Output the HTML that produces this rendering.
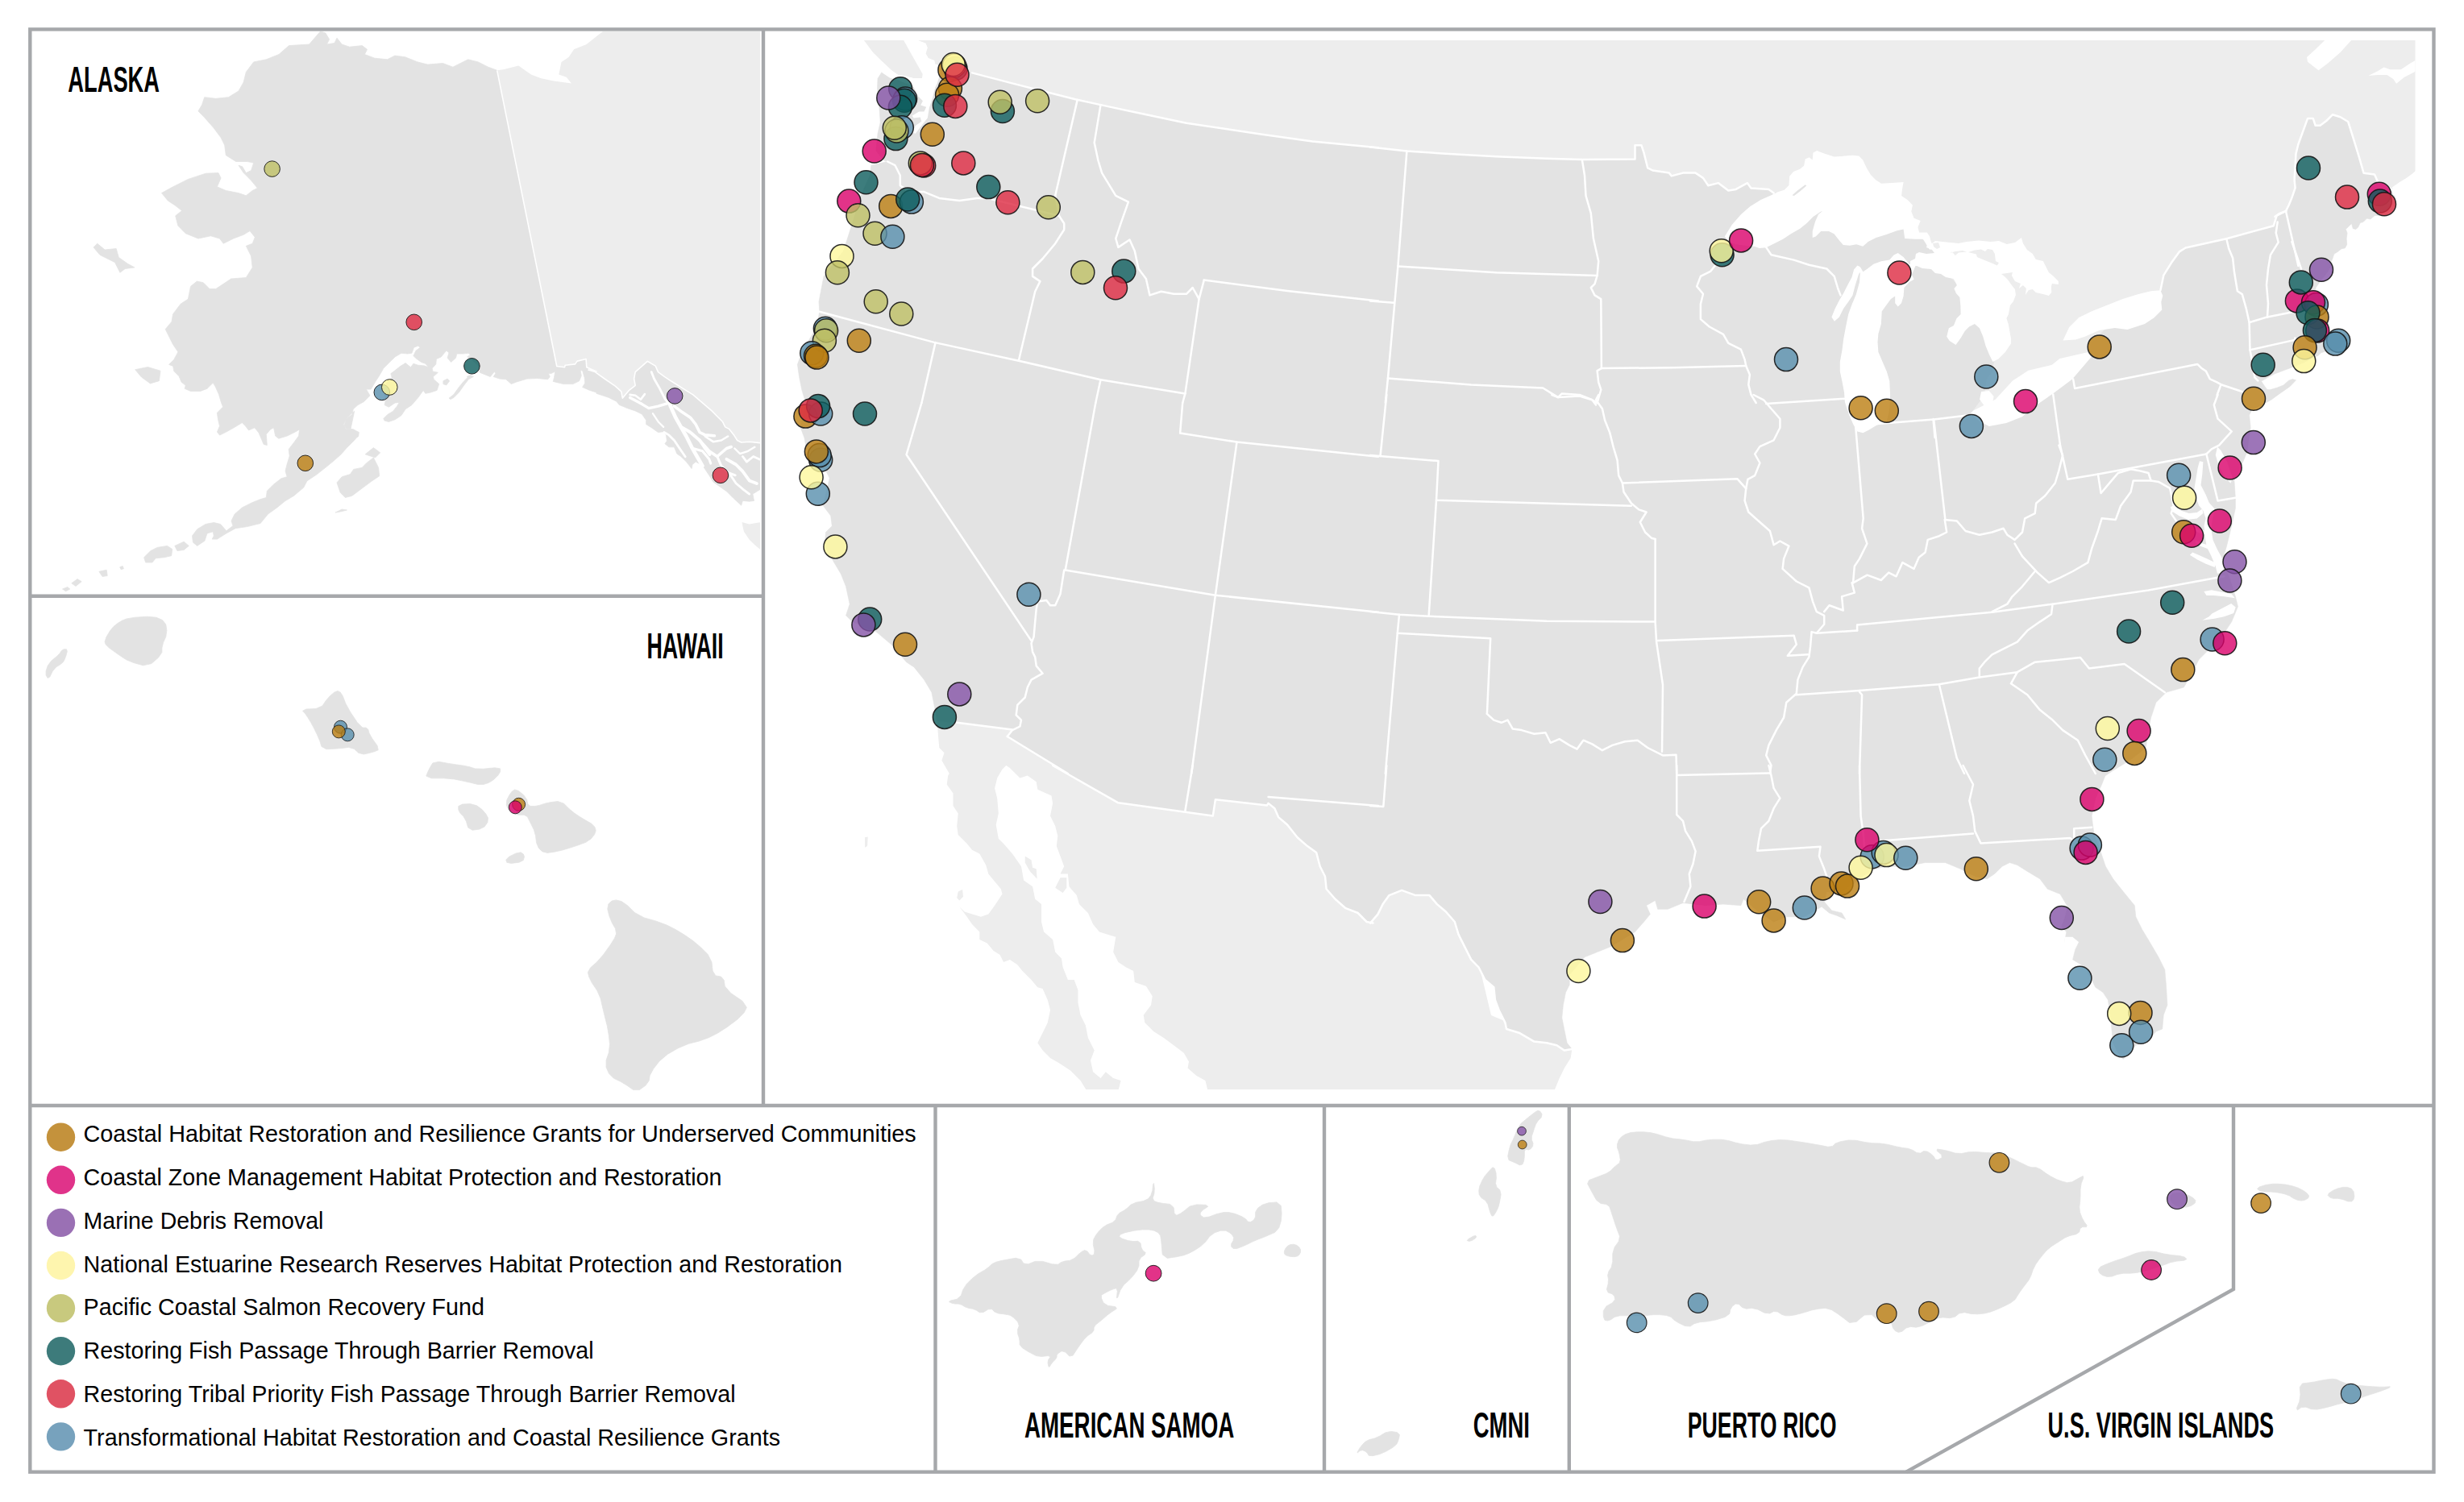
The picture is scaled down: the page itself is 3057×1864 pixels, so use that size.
<!DOCTYPE html>
<html lang="en"><head><meta charset="utf-8"><title>Map</title><style>html,body{margin:0;padding:0;background:#fff}svg{display:block}text{font-family:"Liberation Sans",sans-serif}</style></head><body>
<svg width="3057" height="1864" viewBox="0 0 3057 1864">
<defs><clipPath id="cm"><rect x="949" y="50" width="2047.5" height="1302"/></clipPath><clipPath id="ca"><rect x="39" y="39" width="904" height="698"/></clipPath></defs>
<rect width="3057" height="1864" fill="#fff"/>
<g clip-path="url(#cm)">
<path d="M1139,50.1 1148.6,53.8 1150.8,59.2 1148.6,66.6 1151.8,71.9 1159.3,75.1 1160.3,79.4 1166.7,81.5 1300,300 2000,700 2450,600 2650,460 2780,330 2900,250 2965.3,240.8 2970.5,241.4 2967.8,232.5 2976.8,226.2 2985.8,220.8 2993,215.4 2997.9,211.3 3000,217 3000,40 1139,40Z" fill="#ededed"/>
<path d="M1071.9,50.1 1082.6,64.5 1093.2,75.1 1106,86.9 1114.5,93.2 1124.1,94.5 1133.4,96.9 1143.9,96.9 1144.7,92 1137.4,79 1129.2,64.4 1121.2,50.1Z" fill="#ededed"/>
<path d="M2862,70.9 2872.7,61.2 2884.2,50 2917.1,50 2903.6,65.1 2888.1,78.6 2876.5,87.3 2863,76.7Z" fill="#fff"/>
<path d="M2938.3,94.1 2949.9,88.3 2957.6,83.4 2965.3,86.3 2978.8,86.3 2990.4,78.6 2997.2,74.7 2997.2,88.3 2982.7,96 2973.1,103.7 2969.2,97.9 2961.5,93.1 2949.9,93.1Z" fill="#fff"/>
<path d="M1162.8,894.3 1163.7,909.3 1165.3,928 1171.5,934.3 1168.4,943.7 1177.8,960 1176.2,962.5 1174.7,973.5 1182.5,984.4 1182.5,1000.1 1188.7,1009.4 1187.2,1025.1 1188.7,1036 1199.7,1047 1206,1054.8 1215.3,1059.5 1223.2,1073.6 1226.3,1084.5 1234.1,1093.9 1241.9,1103.3 1243.5,1109.6 1234.1,1123.7 1226.3,1134.6 1216.9,1137.7 1196.6,1131.5 1190.3,1125.2 1199.7,1137.7 1206,1147.1 1215.3,1156.5 1215.3,1165.9 1224.7,1170.6 1232.6,1180 1240.4,1184.7 1245.1,1194.1 1252.9,1190.9 1262.3,1197.2 1268.5,1205 1279.5,1216 1287.3,1225.3 1293.6,1226.9 1299.8,1241 1303,1253.5 1299.8,1269.1 1293.6,1281.7 1287.3,1294.2 1293.6,1303.6 1303,1313 1313.9,1319.2 1328,1328.6 1340.5,1341.1 1348.3,1353.6 1387.4,1353.6 1390.6,1341.1 1381.2,1338 1371.8,1330.2 1365.5,1338 1356.1,1330.2 1353,1316.1 1357.7,1303.6 1349.9,1287.9 1346.8,1272.3 1340.5,1259.8 1337.4,1244.1 1337.4,1228.5 1332.7,1216 1324.9,1216 1318.6,1200.3 1317,1189.4 1309.2,1181.5 1306.1,1165.9 1295.1,1156.5 1292,1144 1292,1122.1 1284.2,1115.8 1281.1,1100.2 1270.1,1092.4 1267,1075.2 1256,1059.5 1245.1,1047 1238.8,1040.7 1235.7,1023.5 1238.8,1009.4 1237.2,990.7 1234.1,978.2 1237.2,965.6 1243.5,954.7 1248.2,950 1252.9,953.1 1265.4,965.6 1274.8,962.5 1285.7,970.3 1287.3,979.7 1304.5,987.5 1306.1,996.9 1303,1012.6 1309.2,1025.1 1312.3,1037.6 1310.8,1050.1 1315.5,1062.6 1320.2,1075.2 1315.5,1084.5 1324.9,1084.5 1326.4,1100.2 1335.8,1111.1 1338.9,1122.1 1349.9,1133 1356.1,1147.1 1364,1156.5 1373.4,1159.6 1384.3,1162.8 1381.2,1181.5 1387.4,1194.1 1396.8,1200.3 1406.2,1205 1407.8,1219.1 1421.9,1223.8 1429.7,1236.3 1428.1,1247.2 1418.7,1259.8 1420.3,1269.1 1431.2,1280.1 1443.8,1287.9 1456.3,1297.3 1468.8,1306.7 1475,1317.6 1473.5,1325.5 1484.4,1334.9 1495.4,1341.1 1498.5,1353.6 1928.4,1353.6 1934.7,1338 1940.9,1325.5 1948.7,1313 1950.3,1302 1850,1260 1800,1050 1300,850Z" fill="#ededed"/>
<path d="M1271.7,1062.6 1279.5,1067.3 1281.1,1076.7 1285.7,1078.3 1286.7,1090.8 1277.9,1081.4 1271.7,1070.5Z" fill="#ededed"/>
<path d="M1315.5,1089.2 1323.3,1089.2 1323.3,1101.8 1318.6,1108 1309.2,1101.8Z" fill="#ededed"/>
<path d="M1188.7,1106.4 1194.1,1103.9 1195,1112.7 1190.3,1117.4 1187.2,1114.3Z" fill="#ededed"/>
<path d="M1073,1039.2 1076.7,1038.5 1076.1,1050.1 1073,1051.7Z" fill="#ededed"/>
<path d="M1093.8,89.8 1103.9,96.4 1114.5,99.6 1125.2,103.9 1133.7,108.2 1162.5,103.9 1165.7,93.2 1167.8,82.6 1206,90.4 1252.9,102.6 1334.2,123.2 1365.5,130.1 1409.3,139.5 1471.9,152.7 1565.8,166.7 1628.4,175.5 1710,183.3 1745.4,187.4 1793.9,190.8 1856.4,194.3 1919,196.8 1962.8,198 2028.5,197.4 2028.5,180.2 2036.4,180.2 2039.5,189.6 2044.2,208.3 2050.4,211.5 2070.8,214.6 2073.9,218.4 2088,214.6 2103.6,214.6 2113,220.9 2119.3,230.3 2131.8,227.1 2144.3,236.5 2153.7,234.9 2167.8,227.1 2172.5,233.4 2194.4,234.9 2200.6,239.6 2262.5,235 2343.7,267.5 2399.8,308.1 2405.4,313 2399.5,324.1 2461.9,386.5 2473.6,448.9 2471.7,460.6 2463.9,470.4 2461.9,489.9 2446.3,511.4 2516.5,484.1 2589.7,438.2 2592.6,425.5 2633.6,390.4 2680.4,360.2 2684.3,341.7 2694,326.1 2703.8,312.4 2711.6,307.5 2762.3,296.2 2820.8,280.2 2824.7,267.6 2836.4,261.7 2822.5,268.8 2828.3,264.9 2836,262 2839.8,254.3 2843.7,244.6 2847.6,233.1 2846.6,223.4 2848.5,190.6 2851.4,179 2863,147.1 2869.8,147.1 2872.7,155.8 2878.5,155.8 2886.2,150 2893.9,142.3 2903.6,145.2 2913.2,151 2919,169.3 2926.7,194.4 2932.5,214.7 2946,216.6 2949.9,225.3 2957.6,228.2 2969.2,236.9 2970.5,241.4 2972.3,250.4 2967.8,260.3 2958.8,267.5 2949.8,267.5 2946.3,267.5 2940.9,272 2936.4,271.1 2931.9,275.6 2928.3,276.5 2925.6,281.9 2922.9,284.6 2919.3,283.7 2917.5,277.4 2913.9,281 2910.3,284.6 2912.1,289.1 2911.2,296.3 2911.7,303.4 2909.4,307.9 2904.9,308.8 2900.4,312.4 2895.9,315.1 2894.1,320.5 2891.4,326.8 2894,326 2887.5,337.7 2878.4,349.4 2873.2,357.1 2871.9,362.3 2879.7,370.1 2884.9,377.9 2887.5,390.9 2888.8,401.3 2887.5,407.8 2892.7,414.3 2901.8,415.6 2912.2,414.3 2916.1,416.9 2914.8,423.4 2907,424.7 2904.4,429.9 2897.9,435.1 2888.8,435.1 2879.7,437.7 2875.8,441.6 2876.1,441.4 2873.6,442.2 2865.5,446.3 2857.4,450.3 2841.2,456.8 2821.7,464.1 2812.8,469 2805.5,473.1 2808.7,477.9 2812.8,483.6 2816.8,483.6 2824.9,481.2 2833.1,477.9 2839.5,472.2 2844.4,470.6 2848.5,471.8 2841.2,479.5 2833.1,485.2 2824.9,490.9 2818.4,495.8 2812.8,499 2808.7,500.6 2809.4,501 2793.8,508.8 2790.6,515 2792.2,530.7 2787.5,562 2778.1,583.9 2771.9,596.4 2773.4,618.3 2773.4,630.8 2768.7,652.7 2762.5,677.7 2757.8,693.4 2756.2,698.1 2765.6,715.3 2773.4,740.3 2776.5,752.8 2768.7,771.6 2756.2,790.4 2740.6,806 2728,818.5 2718.7,837.3 2709.3,853 2687.4,859.2 2674.9,871.7 2668.6,890.5 2665.5,906.1 2662.3,928 2642,943.7 2621.7,956.2 2612.3,962.5 2611.7,963.1 2607.6,973.5 2599.8,990.7 2595.1,1012.6 2596.6,1025.1 2598.2,1036 2606,1056.4 2612.3,1075.2 2621.7,1090.8 2634.2,1106.4 2648.3,1123.7 2649.8,1137.7 2657.6,1153.4 2667,1169 2678,1187.8 2685.8,1203.4 2687.4,1222.2 2688.9,1247.2 2684.2,1259.8 2682.7,1277 2674.9,1280.1 2665.5,1291.1 2649.8,1297.3 2634.2,1314.5 2627.9,1306.7 2621.7,1294.2 2618.5,1262.9 2615.4,1241 2609.1,1231.6 2599.8,1225.3 2595.1,1216 2587.2,1200.3 2571.6,1190.9 2574.7,1178.4 2579.4,1169 2571.6,1162.8 2566.9,1172.2 2561.6,1169 2563.8,1156.5 2557.5,1150.3 2562.2,1137.7 2565.3,1125.2 2556,1109.6 2540.3,1103.3 2530.9,1090.8 2515.3,1081.4 2502.8,1073.6 2493.4,1070.5 2484,1075.2 2474.6,1084.5 2465.2,1090.8 2450.9,1087.7 2432.2,1078.3 2413.4,1070.5 2388.4,1070.5 2366.5,1075.2 2341.4,1075.2 2325.8,1078.3 2310.1,1087.7 2294.5,1100.2 2278.8,1109.6 2266.3,1106.4 2263.2,1119 2272.6,1129.9 2285.1,1133 2289.8,1140.9 2278.8,1136.2 2269.5,1133 2260.1,1125.2 2238.2,1137.7 2216.3,1137.7 2200.6,1144 2181.9,1131.5 2163.1,1115.8 2159.9,1123.7 2138,1122.1 2116.1,1123.7 2088,1120.5 2069.2,1128.3 2056.7,1128.3 2053.6,1117.4 2042.6,1123.7 2047.3,1134.6 2039.5,1144 2028.5,1156.5 2012.9,1165.9 1997.2,1175.3 1981.6,1181.5 1966,1187.8 1947.2,1209.7 1947.2,1222.2 1942.5,1231.6 1939.4,1247.2 1937.8,1262.9 1940.9,1278.5 1944.1,1294.2 1950.3,1302 1940.9,1303.6 1931.5,1297.3 1919,1294.2 1903.4,1292.6 1884.6,1281.7 1869,1277 1867.4,1269.1 1859.6,1253.5 1854.9,1241 1853.3,1225.3 1842.4,1216 1834.5,1200.3 1825.2,1190.9 1818.9,1178.4 1809.5,1159.6 1804.8,1144 1793.9,1131.5 1782.9,1122.1 1773.5,1111.1 1756.3,1111.1 1739.1,1104.9 1723.5,1111.1 1715.6,1122.1 1709.4,1134.6 1700,1145.6 1703.5,1145.6 1695.6,1144 1684.7,1133 1669,1126.8 1656.5,1115.8 1645.6,1103.3 1644,1087.7 1637.7,1075.2 1633.1,1057.9 1622.1,1050.1 1609.6,1039.2 1597.1,1023.5 1586.1,1014.1 1581.4,1003.2 1573.6,996.9 1572,999.4 1507.9,992.2 1504.8,1012.6 1387.4,996.3 1306.1,950 1324.9,960 1249.8,914 1256,905.5 1187.2,896.8 1162.8,894.3 1159,874.9 1155.9,859.2 1146.5,843.6 1134,827.9 1124.6,821.7 1105.8,799.8 1087.1,784.1 1057.3,771.6 1049.5,763.8 1054.2,749.7 1049.5,727.8 1043.3,712.2 1033.9,696.5 1022.9,677.7 1024.5,660.5 1032.3,652.7 1030.7,640.2 1021.4,627.7 1029.2,593.3 1024.5,583.9 1002.6,568.2 997.9,543.2 993.2,530.7 999.4,499.3 994.8,483.7 991.6,468 989.4,452.4 994.8,436.8 1013.5,405.5 1016.7,386.7 1016,374.2 1022,342.9 1046.4,311.6 1060.5,267.8 1065.2,249 1079.2,217.7 1080.8,205.2 1101.1,200.5 1096.4,199 1086.9,187 1089,165.7 1092.2,151.8 1091.1,135.8 1088.5,109.2 1089,97.5Z" fill="#e3e3e3" stroke="#e3e3e3" stroke-width="0.6" stroke-linejoin="round"/>
<g fill="#fff">
<path d="M1093.8,89.8 1106,87.4 1114.5,93.2 1124.1,94.8 1133.4,97.2 1144.4,97.2 1146.5,92.7 1152.9,91.1 1159.3,90.1 1166.7,82.1 1167.8,82.6 1165.7,93.2 1162.5,103.9 1160.3,108.2 1157.1,120.9 1152.9,133.7 1150.8,146.5 1146.5,151.8 1135.8,165.7 1131.6,164.6 1135.8,156.1 1143.3,150.8 1141.7,145.4 1133.7,146.5 1131.6,143.8 1140.1,138.5 1146.5,138.5 1149.2,132.7 1142.2,130.5 1144.9,125.2 1139,119.3 1133.7,108.2 1125.2,103.9 1114.5,99.6 1103.9,96.4Z"/>
<path d="M2139.8,293.5 2148.7,278.9 2160.1,265.9 2171.5,256.1 2184.5,248 2197.5,242.3 2205.6,238.2 2213.7,235.8 2219.4,230.1 2220.2,218.7 2225.1,213.1 2233.2,209.8 2238.1,205.7 2239.7,197.6 2244.6,195.2 2248.7,198.4 2249.5,189.5 2254.3,187.1 2262.5,190.3 2275.5,194.4 2288.5,193.6 2298.2,192.7 2306.3,193.6 2311.2,198.4 2316.1,209 2321,217.1 2327.5,223.6 2334,227.7 2347,226.9 2361.6,226.1 2360,235 2359.1,243.1 2366.5,248 2372.9,254.5 2371.3,262.6 2374.6,270.7 2382.7,274 2379.4,282.1 2381.1,288.6 2390.8,288.6 2394.1,293.5 2395.7,300 2399.8,308.1 2394.1,309.7 2390.8,304.8 2385.9,296.7 2376.2,296.7 2363.2,295.9 2361.6,284.5 2353.5,286.2 2340.5,291 2327.5,295.1 2317.7,300 2311.2,305.7 2303.1,303.2 2295,304.8 2286.8,304 2282,298.4 2275.5,290.2 2269,287 2259.2,287 2252.7,293.5 2248.7,295.1 2248.7,287 2251.9,275.6 2256,265.9 2262.5,261 2269.8,260.2 2259.2,262.6 2249.5,269.1 2241.3,277.2 2233.2,283.7 2221.9,290.2 2212.1,296.7 2200.7,302.4 2191,307.3 2182.9,308.1 2176.4,305.7 2165,304.8 2153.6,303.2 2145.5,300Z"/>
<path d="M2376.3,330.3 2368.5,327.7 2361.6,319 2354.7,313.9 2349.5,316.4 2344.3,322.5 2333.9,324.2 2324.4,327.7 2316.6,333.8 2311.4,337.2 2307.9,331.2 2304.4,329.4 2300.1,334.6 2297.5,344.1 2292.3,353.7 2287.1,364.1 2281.9,372.7 2276.7,383.1 2272.4,393.5 2275.9,398.7 2281.9,393.5 2287.1,383.1 2293.2,374.4 2298.4,366.7 2301.8,353.7 2306.2,339.8 2307.9,338.1 2307,350.2 2302.7,365.8 2297.5,377.9 2293.2,390 2289.7,407.3 2287.1,421.2 2285.4,435 2282.8,448.9 2282.8,461 2285.4,473.1 2288,487 2288.9,499.1 2294.1,514.7 2299.3,526.8 2304.4,535.5 2311.4,537.2 2318.3,533.7 2327,528.5 2333.9,525.1 2340.8,523.3 2344.3,507.8 2345.1,490.4 2344.3,473.1 2340.8,461 2335.6,448.9 2330.4,436.8 2329.5,424.7 2330.4,414.3 2333.9,402.1 2334.7,386.6 2340.8,377.9 2346,371 2351.2,367.5 2351.2,376.2 2354.7,380.5 2359,376.2 2361.6,367.5 2362.4,357.1 2368.5,350.2 2374.6,346.7 2372,340.7Z"/>
<path d="M2444.4,513.3 2448.3,509.4 2475.6,495.8 2497,472.4 2516.5,459.7 2545.8,452.8 2555.5,445 2589.7,437.2 2594.6,443.1 2571.1,470.4 2547.7,488 2528.2,501.6 2508.7,517.2 2489.2,525 2467.8,528.9 2456.1,523.1Z"/>
<path d="M2559.4,422.6 2567.2,406 2578.9,394.3 2594.6,386.5 2614.1,378.7 2633.6,370.9 2653.1,365.1 2668.7,361.2 2680.4,360.2 2683.3,367 2681.3,374.8 2682.3,384.6 2672.6,394.3 2660.9,402.1 2639.4,409 2623.8,407 2604.3,409.9 2586.7,417.7 2575,421.6Z"/>
<path d="M2458,486 2467.8,485 2473.6,491.9 2471.7,501.6 2461.9,503.6 2456.1,495.8Z"/>
<path d="M2733.4,573.3 2732.3,588.7 2730.5,601.9 2736.7,614 2740.7,623.8 2747.7,631.5 2745.1,643.6 2743.3,656.8 2745.5,670 2751,682.1 2756.5,692 2759.8,700.8 2758.7,710.7 2751,711.8 2748.8,703 2743.3,689.8 2737.8,678.8 2735.6,665.6 2734.5,652.4 2736.7,643.6 2733.4,633.7 2727.9,627.1 2724.6,617.3 2722.4,606.3 2724.6,593.1 2726.8,579.9 2729,572.2Z"/>
<path d="M2733.4,637 2725.7,643.6 2714.7,644.7 2703.7,640.3 2694.9,634.8 2692.7,629.3 2697.6,627.1 2705.9,633.7 2715.8,637 2725.7,635.9 2732.3,631.5Z"/>
<path d="M2747.7,704.1 2736.7,699.7 2725.7,694.2 2716.9,688.7 2720.2,685.4 2730.1,689.8 2740,694.2 2748.8,698.6Z"/>
<path d="M2736.7,663.4 2727.9,661.2 2719.1,656.8 2720.2,654.2 2729,657.3 2737.1,659Z"/>
<path d="M2738.9,681 2730.1,677.7 2723.5,673.3 2724.6,670.4 2732.3,674.4 2740,676.6Z"/>
<path d="M2744.3,761.6 2756.2,755.3 2768.1,749.1 2773.7,753.5 2771.2,761 2759.3,765.3 2747.4,767.8 2732.4,769.7 2740.6,765.3Z"/>
<path d="M2734.3,734.1 2743.7,732.2 2756.2,734.7 2768.7,737.2 2772.8,742.2 2759.3,740.3 2746.8,739.1 2737.4,739.1Z"/>
<path d="M2751,554.6 2755.4,559 2763.1,573.3 2769.7,593.1 2767.5,599.7 2760.9,593.1 2752.5,577.7 2748.8,564.5Z"/>
<path d="M2562.2,1162.8 2571.6,1162.8 2576.3,1175.3 2566.9,1172.8 2565.3,1175.9 2561,1169Z"/>
<path d="M2370,323.9 2376,320.9 2377,315 2381,313 2390,315 2400,314 2397,310 2390,307 2391,304 2396,303 2401,299 2410,300 2420,301 2429.9,302 2439.9,300 2449.9,299 2454.9,298.5 2469.9,300 2479.9,299 2489.9,303 2499.9,301 2507.9,295 2509.9,302 2514.9,310 2521.8,315 2525.8,321.9 2534.8,323.9 2537.8,329.9 2541.8,337.9 2547.8,342.9 2553.8,348.9 2553.8,352.9 2545.8,351.9 2544.8,355.9 2545.3,362.9 2541.8,366.9 2534.8,364.9 2525.8,362.9 2521.8,358.9 2516.9,359.9 2512.9,365.9 2513.9,357.9 2509.9,353.9 2504.9,357.9 2506.9,351.9 2499.9,348.9 2495.9,341.9 2496.9,337.9 2489.9,338.9 2482.9,339.9 2486.9,342.9 2490.9,346.9 2495.9,353.9 2499.9,358.9 2500.9,365.9 2497.9,373.9 2493.9,378.9 2491.9,389.9 2489.4,394.9 2491.9,402.9 2494.9,420 2494.9,426.4 2488,436.8 2479.3,445.4 2472.4,448.9 2468.1,440.2 2463.7,429.8 2460.3,417.7 2455.9,407.3 2449.9,402.1 2443,405.6 2437.8,410.8 2432.6,419.5 2426.5,428.1 2418.7,422.9 2415.2,417.7 2417.8,407.3 2423.9,403.9 2427.4,395.2 2432.6,390 2432.4,379.9 2431.4,368.9 2426.9,363.9 2424.4,357.9 2427.9,353.9 2423.9,345.9 2414,343.9 2408,339.9 2401,338.9 2396,333.9 2385,332.9 2378,329.9 2370,330.9Z"/>
</g>
<path d="M2223.5,242.3 2230,236.6 2239.7,229.3 2241.3,230.4 2233.2,237.4 2225.9,243.1Z" fill="#e3e3e3"/>
<path d="M2419,314 2425.9,312 2434.9,311 2441.9,313 2449.9,310.5 2457.9,309.5 2462.9,312 2465.9,309 2471.9,310 2474.9,315 2475.9,323.9 2479.9,325.9 2477.9,329.4 2469.9,325.9 2459.9,321.9 2452.9,319 2451.9,315.5 2445.9,314 2439.9,312.5 2429.9,313.5 2425.9,317 2421.9,312.5Z" fill="#ededed"/>
<path d="M2398,302 2405,301 2407,307 2403,309 2399,306Z" fill="#ededed"/>
<g fill="none" stroke="#fff" stroke-width="2.5" stroke-linejoin="round" stroke-linecap="round">
<path d="M1336.7,123.9 1309.2,242.8"/>
<path d="M1309.2,242.8 1313.9,267.8 1320.2,277.2 1320.2,285 1309.2,302.2 1293.6,321 1281.1,333.5 1281.1,342.9 1290.4,349.1 1284.2,361.7 1263.8,447.7"/>
<path d="M1101.1,200.5 1110.5,205.2 1116.8,217.7 1116.8,230.3 1127.7,238.1 1146.5,238.1 1165.3,245.9 1190.3,249 1212.2,245.9 1224.7,245.9 1313.9,267.8"/>
<path d="M1365.5,130.1 1357.7,177.1 1362.4,199 1367.1,214.6 1384.3,242.8 1399.9,250.6 1390.6,277.2 1384.3,296 1387.4,306.9 1401.5,297.5 1407.8,311.6 1412.5,333.5 1421.9,346 1426.5,366.4 1440.6,361.7 1456.3,364.8 1471.9,364.8 1479.7,357 1487.6,371.1"/>
<path d="M1493.8,347.6 1487.6,371.1 1470.4,488.4"/>
<path d="M1493.8,347.6 1597.1,361 1710,373.6"/>
<path d="M1016.7,386.7 1159,424.9 1263.8,447.7 1365.5,471.2 1470.4,488.4"/>
<path d="M1160.6,424.9 1143.4,500"/>
<path d="M1365.5,471.2 1359.3,500"/>
<path d="M1470.4,488.4 1467.2,500"/>
<path d="M1206,90.4 1252.9,102.6 1334.2,123.2 1365.5,130.1 1409.3,139.5 1471.9,152.7 1565.8,166.7 1628.4,175.5 1710,183.3"/>
<path d="M1700,182.4 1745.4,187.4 1793.9,190.8 1856.4,194.3 1919,196.8 1962.8,198 2028.5,197.4 2028.5,180.2 2036.4,180.2 2039.5,189.6 2044.2,208.3 2050.4,211.5 2070.8,214.6 2073.9,218.4 2088,214.6 2103.6,214.6 2113,220.9 2119.3,230.3 2131.8,227.1 2144.3,236.5 2153.7,234.9 2167.8,227.1 2172.5,233.4 2194.4,234.9 2200.6,239.6"/>
<path d="M1745.4,187.4 1734.4,330.4 1721.9,469.6 1718.8,500"/>
<path d="M1700,373.6 1729.7,375.7"/>
<path d="M1734.4,330.4 1856.4,338.2 1981.6,342"/>
<path d="M1721.9,469.6 1825.2,477.4 1914.3,481.5 1925.3,488.4 1933.1,493.1 1937.8,488.4 1959.7,489.9 1975.3,496.2 1981.6,500"/>
<path d="M1962.8,198 1966,217.7 1967.5,242.8 1973.8,264.7 1976.9,296 1983.2,324.1 1981.6,342 1978.5,352.3 1973.8,357 1978.5,366.4 1986.3,371.1 1986.9,457.1"/>
<path d="M1986.9,457.1 1981.6,460.2 1983.2,474.3 1986.3,483.7 1981.6,500"/>
<path d="M1986.9,457.1 2075.5,456.2 2166.2,454"/>
<path d="M2133.4,322.6 2122.4,336.6 2109.9,342.9 2105.2,355.4 2113,364.8 2109.9,377.3 2109.9,396.1 2120.8,405.5 2138,414.9 2144.3,425.8 2159.9,433.6 2164.6,446.1 2166.2,454 2170.9,464.9 2169.3,477.4 2172.5,489.9 2178.7,500"/>
<path d="M2191.2,306.9 2197.5,316.3 2225.7,322.6 2244.4,328.8 2266.3,333.5 2275.7,342.9 2280.4,358.5 2283.5,366.4"/>
<path d="M1143.4,500 1124.6,564.2 1279.5,795.1"/>
<path d="M1320.2,707.5 1315.5,737.2 1309.2,751.3 1303,751.3 1298.3,745 1287.3,746.6 1285.7,756 1284.2,771.6 1282.6,790.4 1279.5,798.2 1281.1,809.1 1284.2,815.4 1285.7,826.4 1293.6,835.7 1279.5,843.6 1274.8,853 1271.7,865.5 1262.3,874.9 1260.7,887.4 1267,893.6 1265.4,901.5 1256,906.1 1249.8,914"/>
<path d="M1187.2,896.8 1256,905.5"/>
<path d="M1249.8,914 1324.9,960"/>
<path d="M1359.3,500 1321.7,707.5"/>
<path d="M1321.7,707.5 1507.9,738.7 1710,759.7"/>
<path d="M1467.2,500 1464.1,537.6 1534.5,548.5 1710,566.7"/>
<path d="M1534.5,548.5 1507.9,738.7 1478.2,960"/>
<path d="M1720.3,490 1712.5,566"/>
<path d="M1700,565.1 1784.5,572 1782,620.8 2023.8,627.7"/>
<path d="M1782,620.8 1772.6,764.7"/>
<path d="M1700,759.1 1736,762.8 1772.6,764.7 1919,770.7 2053.6,771.6"/>
<path d="M1736,762.8 1733.8,785.7 1849.2,792.3 1844.9,885.8"/>
<path d="M1733.8,785.7 1718.8,960"/>
<path d="M1844.9,885.8 1853.3,893.6 1862.7,896.8 1870.5,893.6 1876.8,904.6 1887.7,906.1 1903.4,910.8 1917.5,909.3 1923.7,921.8 1934.7,917.1 1947.2,924.9 1956.6,929.6 1964.4,918.7 1975.3,923.4 1987.9,931.2 2000.4,924.9 2016,920.2 2031.7,918.7 2044.2,928 2063,937.4 2079.5,936.8 2080.2,960"/>
<path d="M2053.6,669 2053.6,771.6 2055.1,796.6 2063,849.8 2062,932.7"/>
<path d="M1983.2,490 1980,496.3 1987.9,507.2 1991,521.3 1997.2,536.9 2001.9,555.7 2006.6,571.4 2008.2,590.1 2012.9,599.5 2014.5,610.5 2023.8,624.5 2033.2,632.4 2042.6,635.5 2034.8,648 2041.1,660.5 2048.9,667.7 2053.6,669"/>
<path d="M1925.3,490 1933.1,493.1 1959.7,491.6 1975.3,496.3 1980,502.5"/>
<path d="M2012.9,599.5 2155.3,594.2 2166.2,606.4"/>
<path d="M2175.6,490 2188.1,496.3 2197.5,507.2 2208.4,519.7 2208.4,530.7 2200.6,546.3 2183.4,554.1 2177.2,563.5 2183.4,574.5 2177.2,590.1 2168.4,594.8 2166.2,606.4 2164.6,621.4 2169.3,635.5 2183.4,648 2195.9,659 2200.6,676.2 2208.4,671.5 2219.4,677.7 2213.1,693.4 2211.6,705.9 2228.8,721.5 2244.4,729.4 2249.1,746.6 2253.8,759.1 2263.2,763.8 2263.2,774.7 2253.8,785.7 2247.6,784.1 2246,802.9 2244.4,815.4 2236.6,827.9 2230.4,843.6 2228.8,860.8 2216.3,871.7 2213.1,890.5 2203.8,906.1 2194.4,924.9 2191.2,937.4 2197.5,949.9 2195.9,960"/>
<path d="M2191.2,501 2289.8,494.7"/>
<path d="M2302.3,530.7 2311.7,643.3 2310.1,655.8 2316.4,674.6 2307,693.4 2300.8,702.8 2299.2,721.5"/>
<path d="M2263.2,759.1 2269.5,751.3 2286.7,757.5 2285.1,740.3 2300.8,735.6 2297.6,723.1 2299.5,723.1"/>
<path d="M2399.3,521.3 2413.4,644.9"/>
<path d="M2328.9,526 2399.3,520.4 2457.2,513.5"/>
<path d="M2253.8,785.7 2304.2,782.6"/>
<path d="M2056.7,795.1 2225.7,788.8 2228.8,799.8 2217.8,813.8 2242.9,812.3"/>
<path d="M2228.8,862.3 2307,857"/>
<path d="M2307,858.6 2310.1,862.3 2307,960"/>
<path d="M2299.4,723.1 2316.6,713.7 2333.8,720 2343.2,710.6 2352.6,715.3 2360.4,698.1 2374.5,705.9 2380.7,691.8 2388.6,685.6 2391.7,669.9 2405.8,665.2 2415.2,660.5 2412.7,644.9 2427.7,646.4 2438.6,659 2455.8,663.7 2471.5,660.5 2485.6,655.8 2490.3,663.7 2499.6,669.9 2509,660.5 2512.2,643.3 2524.7,637.1 2526.2,624.5 2537.2,615.2 2549.7,599.5 2554.4,583.9 2559.1,565.1 2554.4,552.6"/>
<path d="M2547.2,489.4 2556,552.6 2565.3,594.8 2602.9,588.6 2737.4,563.5"/>
<path d="M2737.4,563.5 2743.7,557.3 2753.1,552.6 2768.7,535.4 2751.5,519.7 2746.8,502.5 2751.5,490"/>
<path d="M2602.9,588.6 2606.6,612 2618.5,597.9 2627.9,587 2643.6,582.3 2653,583.9 2665.5,587 2668.6,596.4 2646.7,596.4 2643.6,610.5 2631.1,627.7 2624.8,644.9 2607.6,643.3 2602.9,659 2595.1,680.9 2590.4,698.1 2571.6,709 2556,716.8 2541.9,723.1 2527.8,710.6 2509,690.3 2499.6,674.6"/>
<path d="M2668.6,596.4 2678,597.9 2692.1,605.8 2696.8,627.7 2693.6,637.1 2699.9,646.4"/>
<path d="M2737.4,563.5 2751.5,621.4 2773.4,617.7"/>
<path d="M2524.7,709 2509,727.8 2496.5,740.3 2490.3,749.7 2471.5,759.1"/>
<path d="M2304.1,782.6 2304.1,775.4 2471.5,759.7 2546.6,749.7 2665.5,732.5 2759.3,715.3"/>
<path d="M2546.6,749.7 2545,762.2 2530.9,771.6 2515.3,782.6 2502.8,796.6 2490.3,802.9 2471.5,812.3 2462.1,821.7 2455.8,829.5 2455.8,840.4"/>
<path d="M2306.9,857 2405.8,849.2 2455.8,840.4 2502.8,834.2"/>
<path d="M2502.8,834.2 2524.7,821.7 2581,816 2591.9,829.5 2635.7,823.9 2685.8,859.2"/>
<path d="M2502.8,834.2 2494.9,848.3 2515.3,862.3 2530.9,881.1 2546.6,893.6 2559.1,906.1 2577.9,918.7 2587.2,937.4 2599.8,960"/>
<path d="M2405.8,849.2 2427.7,940.6 2437.1,960"/>
<path d="M1479.7,950 1470.4,1006.3"/>
<path d="M1573.6,989.1 1710,1000.1"/>
<path d="M1703.5,1145.6 1695.6,1144 1684.7,1133 1669,1126.8 1656.5,1115.8 1645.6,1103.3 1644,1087.7 1637.7,1075.2 1633.1,1057.9 1622.1,1050.1 1609.6,1039.2 1597.1,1023.5 1586.1,1014.1 1581.4,1003.2 1573.6,996.9 1572,999.4 1507.9,992.2 1504.8,1012.6 1387.4,996.3 1306.1,950"/>
<path d="M1950.3,1302 1940.9,1303.6 1931.5,1297.3 1919,1294.2 1903.4,1292.6 1884.6,1281.7 1869,1277 1867.4,1269.1 1859.6,1253.5 1854.9,1241 1853.3,1225.3 1842.4,1216 1834.5,1200.3 1825.2,1190.9 1818.9,1178.4 1809.5,1159.6 1804.8,1144 1793.9,1131.5 1782.9,1122.1 1773.5,1111.1 1756.3,1111.1 1739.1,1104.9 1723.5,1111.1 1715.6,1122.1 1709.4,1134.6 1700,1145.6"/>
<path d="M1720.3,950 1716.3,1001 1700,1000.1"/>
<path d="M2080.2,950 2080.2,1011 2088,1018.8 2091.1,1031.4 2098.9,1043.9 2103.6,1056.4 2100.5,1072 2095.8,1084.5 2097.4,1100.2 2089.5,1119"/>
<path d="M2080.2,961.9 2194.4,959.4"/>
<path d="M2194.4,950 2197.5,962.5 2200.6,978.2 2208.4,990.7 2200.6,1003.2 2194.4,1018.8 2185,1028.2 2181.9,1043.9 2180.3,1055.8 2258.5,1050.8 2256.9,1062.6 2263.2,1078.3 2266.3,1087.7"/>
<path d="M2307,950 2308.6,1012.6 2311.7,1034.5 2313.3,1053.3"/>
<path d="M2327.5,1043.9 2448,1034.5"/>
<path d="M2435.5,950 2448,973.5 2443.3,993.8 2448,1012.6 2450.2,1031.4 2457.4,1046.4 2568.5,1040.1 2573.2,1043.9 2573.2,1028.2 2595.1,1026.7"/>
<path d="M2680.4,360.2 2684.3,341.7 2694,326.1 2703.8,312.4 2711.6,307.5 2762.3,296.2 2820.8,280.2 2824.7,267.6 2836.4,261.7"/>
<path d="M2762.3,296.2 2765.2,308.5 2770.1,320.2 2772,337.8 2775.9,361.2 2781.8,365.1 2786.7,382.6 2790.6,400.2 2791.5,434.3 2793.5,445 2797.4,468.5 2801.3,472.4"/>
<path d="M2825.7,275.4 2823.7,289 2826.7,300.7 2816.9,316.3 2814,333.9 2812,353.4 2814,376.8 2813,393.4"/>
<path d="M2790.6,400.2 2813,393.4 2848.1,386.5"/>
<path d="M2791.5,434.3 2848.1,421.6"/>
<path d="M2572.1,470.4 2574.1,482.1 2726.2,451.9 2731.1,456.7 2736.9,460.6 2741.8,470.4 2750.6,474.3 2755.5,477.2 2750.6,490.3"/>
<path d="M2755.5,477.2 2784.7,487"/>
<path d="M2398.5,520.1 2400.5,543"/>
<path d="M2836,262 2851.4,330"/>
<path d="M2843.4,300 2855.1,333.8"/>
<path d="M2847.3,419.5 2849.9,442.9"/>
<path d="M2822.5,268.8 2828.3,264.9 2836,262 2839.8,254.3 2843.7,244.6 2847.6,233.1 2846.6,223.4 2848.5,190.6 2851.4,179 2863,147.1 2869.8,147.1 2872.7,155.8 2878.5,155.8 2886.2,150 2893.9,142.3 2903.6,145.2 2913.2,151 2919,169.3 2926.7,194.4 2932.5,214.7 2946,216.6 2949.9,225.3 2957.6,228.2 2969.2,236.9 2970.5,241.4"/>
</g>
</g>
<g clip-path="url(#ca)">
<path d="M616.7,87.3 624.5,86.3 643.3,81.6 658.9,92.6 671.4,97.3 687.1,100.4 709,103.5 702.7,95.7 693.3,92.6 696.5,76.9 705.8,70.7 712.1,61.3 727.7,55 743.4,42.5 749.6,37.8 945,38 945,549.8 929.7,548.2 919.7,549 914.7,546.5 910.6,539.9 904.7,532.4 899.7,529.9 896.4,523.2 883.1,509.9 871.5,499.9 859.8,489.9 846.5,481.6 833.2,473.3 823.2,466.6 816.5,461.6 813.2,454.1 803.2,448.3 788.2,461.6 786.6,470 788.2,478.3 779.9,484.9 772.4,494.1 770.8,485.8 763.3,479.1 750,470 738.3,461.6 730,459.1 740,461 727.8,455.8 727.1,445.5 716.1,448.1 713.5,451.9 701.2,453.2 700.5,455.8 690.8,454.5 616.7,87.3Z" fill="#ededed"/>
<path d="M920.5,648 929.7,650.5 938,648.9 944.7,648 944.7,683 936.4,676.3 929.7,669.7 923,659.7 921.4,653Z" fill="#ededed"/>
<g fill="#e3e3e3" stroke="#e3e3e3" stroke-width="0.8" stroke-linejoin="round">
<path d="M616.7,87.3 605.7,83.2 593.2,76.9 580.7,73.8 574.4,76.9 561.9,83.2 549.4,78.5 530.6,80.1 518.1,76.9 502.5,70.7 489.9,69.1 480.6,73.8 464.9,72.2 452.4,67.5 455.5,61.3 449.3,56.6 433.6,58.2 424.2,55 418,47.2 414.9,53.5 405.5,55 408.6,48.8 403.9,41 397.6,38.8 393,44.1 383.6,55 358.5,56.6 346,67.5 330.4,73.8 314.7,76.9 305.3,89.4 302.2,102 296,112.9 283.4,120.7 267.8,122.3 253.7,120.7 250.6,130.1 245.9,137.9 253.7,145.8 264.7,158.3 274.1,170.8 278.7,180.2 280.3,192.7 292.8,200.5 306.9,200.5 314.7,202.1 311.6,211.5 305.3,214.6 300.7,206.8 296,205.2 302.2,214.6 311.6,224 319.4,233.4 313.2,236.5 305.3,242.8 296,239.6 280.3,236.5 269.4,231.8 274.1,220.9 270.9,214.6 255.3,215.2 233.4,222.4 214.6,231.8 200.5,239.6 208.3,249 217.7,255.3 225.6,261.5 217.7,267.8 220.9,280.3 230.3,289.7 245.9,296 261.5,292.8 272.5,296 277.2,302.2 289.7,296 302.2,291.3 310,286.6 316.3,294.4 313.2,302.2 305.3,305.3 311.6,317.9 313.2,331.9 305.3,344.5 286.6,346 277.2,352.3 267.8,358.5 260,358.5 252.2,350.7 244.3,349.1 236.5,355.4 233.4,371.1 224,377.3 214.6,389.8 213,399.2 205.2,408.6 209.9,418 214.6,427.4 220.9,436.8 215.8,446.2 209.6,452.4 214.7,454.4 215.8,460.6 222,466.8 225,474.1 230.2,478.2 229.2,482.3 236.4,485.4 248.8,485.4 257,482.3 264.3,475.1 267.4,480.2 271.5,489.5 274.6,499.9 276.6,505 269.4,512.2 270.5,520.5 272.5,528.8 269.4,536 272.5,540.1 280.8,536 290.1,530.8 300.4,524.6 304.5,528.8 308.6,533.9 315.9,530.8 321,537 327.2,551.5 331.3,552.5 330.3,539.1 335.5,532.9 339.6,530.8 341.7,541.1 345.8,544.2 356.1,541.1 366.4,536 371.6,532.9 370.6,541.1 364.4,549.4 358.2,557.6 359.2,565.9 356.1,576.2 354,584.5 356.1,591.7 348.9,593.8 339.6,601 331.3,609.2 330.3,617.5 323.1,619.6 312.8,623.7 300.4,629.9 291.1,638.1 287,646.4 289,652.6 280.8,658.8 273.6,650.5 265.3,648.5 255,650.5 244.7,656.7 238.5,665 239.5,673.2 244.7,677.4 253.9,671.2 257,661.9 264.3,659.8 265.3,665 263.2,669.1 269.4,669.1 280.8,661.9 292.1,655.7 306.6,653.6 323.1,649.5 332.4,638.1 343.7,629.9 354,621.6 364.4,615.4 376.7,605.1 380.9,596.9 393.3,588.6 403.6,580.4 413.9,572.1 423.2,563.8 430.4,555.6 440.7,545.3 444.9,537 438.7,532.9 430.4,532.9 426.3,526.7 430.4,518.4 439.7,510.2 430.4,554.5 436.9,546.8 444.7,541.6 445.3,536.4 436.9,532.5 429.1,532.5 427.1,527.9 429.7,519.5 436.9,514.3 438.2,507.8 444,502.6 451.2,498.7 459,490.9 454.4,483.1 460.3,483.1 465.5,474 470.6,466.2 475.8,457.1 482.3,450.6 490.1,442.9 497.9,438.3 505.7,439 510.9,438.3 513.5,431.2 518.7,429.2 521.3,431.2 516.1,435.1 512.9,441.6 516.1,444.8 522.6,449.4 527.8,451.3 531.7,455.8 526.5,453.9 518.7,453.2 512.9,451.3 509.6,455.8 503.1,450.6 496.6,454.5 490.1,459.7 484.9,463.6 486.2,468.8 481,472.7 475.8,484.4 478.4,496.1 477.1,502.6 482.3,505.2 490.1,500 495.3,499.4 492.7,503.9 487.5,510.4 481,514.3 475.8,519.5 477.1,522.1 482.3,523.4 490.1,520.8 497.9,515.6 503.1,507.8 510.9,502.6 518.7,493.5 525.2,484.4 527.8,488.3 534.3,487 542.1,484.4 544.7,476.6 538.2,470.8 537.5,467.5 543.4,462.3 536.9,461 536.2,457.1 540.8,451.9 541.4,445.5 547.3,442.9 553.8,435.1 557,437.7 555.1,444.2 559.6,449.4 565.5,444.2 566.8,439 574.5,439 581,438.3 583.6,440.3 579.7,442.9 586.2,446.8 594,454.5 595.3,462.3 601.8,464.9 608.3,467.5 613.5,461 614.8,463.6 612.2,467.5 620,470.1 627.8,470.8 634.3,476.6 640.8,474 653.8,470.1 666.8,469.5 679.7,470.8 682.3,467.5 680.4,463.6 683.6,463.6 688.8,461 687.5,468.8 686.2,473.4 699.2,476.6 710.9,476.6 718.7,472.7 721.3,466.2 720,459.7 722.6,459.7 725.2,468.8 725.8,475.3 722.6,480.5 731.7,484.4 740,487 740,488.3 755,493.3 764.9,498.2 768.3,502.4 778.3,506.6 788.2,509.9 796.6,514.1 801.6,521.5 801.6,526.5 808.2,530.7 816.5,536.5 823.2,535.7 826.5,539.9 827.4,547.3 824.9,550.7 829.9,554.8 836.5,554.8 839.8,563.1 844.8,566.5 851.5,573.1 858.1,581.5 859,576.5 863.1,573.1 868.1,575.6 873.1,579.8 879.8,589.8 884.8,598.1 893.1,603.9 901.4,609.7 909.7,618.1 919.7,627.2 921.4,621.4 929.7,622.2 935.5,621.4 933.9,613.1 944.7,606.4 944.7,549.8 929.7,548.2 919.7,549 914.7,546.5 910.6,539.9 904.7,532.4 899.7,529.9 896.4,523.2 883.1,509.9 871.5,499.9 859.8,489.9 846.5,481.6 833.2,473.3 823.2,466.6 816.5,461.6 813.2,454.1 803.2,448.3 788.2,461.6 786.6,470 788.2,478.3 779.9,484.9 772.4,494.1 770.8,485.8 763.3,479.1 750,470 738.3,461.6 730,459.1 740,461 727.8,455.8 727.1,445.5 716.1,448.1 713.5,451.9 701.2,453.2 700.5,455.8 690.8,454.5Z"/>
<path d="M116,306.9 120.7,302.2 130.1,310 144.2,308.5 147.3,319.4 158.3,327.2 167,331.9 155.2,333.5 148.9,338.2 142.6,325.7 123.9,316.3Z"/>
<path d="M167.7,458.7 183.3,455.5 199,460.2 197.4,472.7 186.4,475.9 175.5,468Z"/>
<path d="M418,598.9 424.2,591.7 434.5,588.6 438.7,582.4 449,580.4 455.2,574.2 463.4,568 469.6,580.4 470.7,590.7 461.4,596.9 453.1,603.1 444.9,609.2 436.6,615.4 428.3,617.5 422.2,611.3Z"/>
<path d="M453.1,563.8 463.4,555.6 471.7,561.8 465.5,568Z"/>
<path d="M178.6,691.8 186.9,683.6 195.1,679.4 207.5,677.4 213.7,681.5 212.7,689.7 203.4,691.8 193.1,692.8 188.9,698 180.7,698Z"/>
<path d="M122.9,709.3 132.2,707.3 133.2,714.5 127,715.5Z"/>
<path d="M88.8,723.8 96,718.6 101.2,721.7 94,727.5Z"/>
<path d="M77.5,731 83.7,728.5 86.8,731 81.6,733.7Z"/>
<path d="M148.7,703.8 152.2,702.5 153.4,705.8 150.1,706.7Z"/>
<path d="M216.8,677.4 228.1,672.2 234.3,677.4 228.1,682.5 219.9,683.6Z"/>
<path d="M416,636.1 424.2,632 430.4,633 422.2,635Z"/>
<path d="M557,494.2 562.9,489.6 569.4,480.5 575.8,472.7 580.4,468.2 582.3,469.5 575.8,477.9 569.4,487 562.9,493.5 559,495.5Z"/>
<path d="M549.9,472.7 555.1,470.1 557.7,472.7 553.8,477.9 549.9,476.6Z"/>
<path d="M579.1,467.5 583.6,465.6 587.5,467.5 582.3,470.1Z"/>
</g>
<path d="M616.7,87.3 690.8,454.5 700.5,455.8 701.2,453.2 713.5,451.9 716.1,448.1 727.1,445.5 727.8,455.8 740,461 730,459.1 738.3,461.6 750,470 763.3,479.1 770.8,485.8 772.4,494.1 779.9,484.9 788.2,478.3 786.6,470 788.2,461.6 803.2,448.3 813.2,454.1 816.5,461.6 823.2,466.6 833.2,473.3 846.5,481.6 859.8,489.9 871.5,499.9 883.1,509.9 896.4,523.2 899.7,529.9 904.7,532.4 910.6,539.9 914.7,546.5 919.7,549 929.7,548.2 944.7,549.8" fill="none" stroke="#fff" stroke-width="1.6" stroke-linejoin="round"/>
<path d="M808.2,461.6 811.5,470 818.2,481.6 824.9,494.9 831.5,503.2" fill="none" stroke="#fff" stroke-width="2.8" stroke-linejoin="round" stroke-linecap="round"/>
<path d="M831.5,503.2 838.2,518.2 844.8,529.9 851.5,541.5 858.1,554.8 864.8,566.5 871.5,578.1" fill="none" stroke="#fff" stroke-width="4.6" stroke-linejoin="round" stroke-linecap="round"/>
<path d="M781.6,489.9 788.2,490.8 794.9,495.7 799.9,489.1" fill="none" stroke="#fff" stroke-width="2.6" stroke-linejoin="round" stroke-linecap="round"/>
<path d="M781.6,493.6 796.6,501.6 804.9,506.6 816.5,504.1 828.2,500.7" fill="none" stroke="#fff" stroke-width="3.4" stroke-linejoin="round" stroke-linecap="round"/>
<path d="M836.5,504.1 846.5,511.6 856.5,518.2 863.1,526.5 868.1,536.5 874.8,539.9 886.4,540.8" fill="none" stroke="#fff" stroke-width="3.6" stroke-linejoin="round" stroke-linecap="round"/>
<path d="M846.5,530.7 856.5,536.5 868.1,546.5 874.8,556.5 880.6,564" fill="none" stroke="#fff" stroke-width="3.8" stroke-linejoin="round" stroke-linecap="round"/>
<path d="M868.1,546.5 879.8,559.8 889.8,566.5 901.4,556.5 907.2,554.5" fill="none" stroke="#fff" stroke-width="3.6" stroke-linejoin="round" stroke-linecap="round"/>
<path d="M901.4,569.8 913.1,576.5 921.4,584.8 929.7,596.4 938.9,600.1" fill="none" stroke="#fff" stroke-width="3.8" stroke-linejoin="round" stroke-linecap="round"/>
<path d="M859.8,556.5 871.5,559.8 879.8,569.8 881.8,575.1" fill="none" stroke="#fff" stroke-width="3.0" stroke-linejoin="round" stroke-linecap="round"/>
<path d="M921.4,566.5 926.4,573.1 934.7,566.5 942.2,570.1" fill="none" stroke="#fff" stroke-width="2.8" stroke-linejoin="round" stroke-linecap="round"/>
<path d="M889.8,566.5 894.8,578.1 903.1,586.4 912.2,589.8" fill="none" stroke="#fff" stroke-width="3.0" stroke-linejoin="round" stroke-linecap="round"/>
<path d="M824,536.5 829.9,539.9 836.5,546.5 843.2,556.5 850.2,566.8" fill="none" stroke="#fff" stroke-width="2.8" stroke-linejoin="round" stroke-linecap="round"/>
<path d="M874.8,541.5 884.8,548.2 894.8,546.5 903.1,541.5" fill="none" stroke="#fff" stroke-width="2.6" stroke-linejoin="round" stroke-linecap="round"/>
<path d="M906.4,589.8 913.1,599.8 923,608.1 929.7,613.1" fill="none" stroke="#fff" stroke-width="2.8" stroke-linejoin="round" stroke-linecap="round"/>
<path d="M911.4,556.5 918.1,563.1 928,559.8 936.4,554.8" fill="none" stroke="#fff" stroke-width="2.4" stroke-linejoin="round" stroke-linecap="round"/>
<path d="M809.9,513.2 816.5,523.2 823.2,529.9" fill="none" stroke="#fff" stroke-width="2.2" stroke-linejoin="round" stroke-linecap="round"/>
</g>
<g fill="#e3e3e3" stroke="#e3e3e3" stroke-width="0.8" stroke-linejoin="round">
<path d="M83.3,808.4 81.8,813.9 80.2,818.2 78.5,821.4 74.9,824.6 69.5,827.9 65.2,833 61.9,839.9 59.2,841.5 57.1,837.9 57.1,832.8 59.2,826.2 63.5,820.3 70,814.9 74.4,810.6 76.5,807.3 79.2,805.7 82.5,805.7Z"/>
<path d="M167.4,766.2 182.5,765.2 193.9,766.2 201.5,769.5 205.8,774.9 206.9,782.5 205.8,790.1 202.5,797.6 200.9,804.1 200.9,809.5 196.6,816 187.9,823.6 177.6,825.8 165.8,822.5 156.6,818.7 150.1,814.4 143,809.5 135.5,804.1 131.1,799.8 130.1,796.5 131.7,791.1 136,783.6 140.9,777.6 146.3,773.3 151.7,770 157.1,767.9Z"/>
<path d="M418.9,857.5 422.2,859 425.4,864.1 428.7,872.8 434.6,883.6 443.3,896.6 449.8,903.1 454.1,903.1 456.8,905.3 457.9,909.6 461.6,916.3 468.1,925.4 469.2,930.8 465,932.5 459,934.3 451.4,936 444.9,934.4 439.5,929.4 432.5,927.4 423.8,928.6 414.6,929.3 404.9,929.7 398.9,926.4 396.8,919.6 393.5,911.8 389.2,903.1 385.4,896.1 382.1,890.7 378.9,886 375.6,882.2 379.9,880 391.9,879.5 400,876 404.3,869.5 409.2,863.9 414.6,859.2Z"/>
<path d="M544.5,945.3 556.3,947.4 566.6,949 575.3,950.2 582.9,951.8 589.4,953.9 599.6,954.2 613.7,952.8 620.7,953.9 620.7,957.5 618,962.1 612.6,967.5 606.6,971.3 600.1,973.4 592.6,973.4 583.9,971.3 574.2,969.1 563.4,966.9 550.4,965.8 535.3,965.8 528.8,963.1 530.9,957.7 533.6,952.3 536.9,946.9Z"/>
<path d="M573.6,998.1 583.4,997.6 591.5,999.8 598,1004.6 602.6,1009.7 605.5,1015.1 604.9,1020.5 601.1,1025.9 594.8,1029.1 586.1,1030.2 580.7,1027 578.5,1019.4 575.2,1013.5 570.9,1009.1 568.8,1004.8 568.8,1000.5Z"/>
<path d="M643.5,981.5 650,987 653.7,992.4 654.8,997.8 658,1000.5 663.4,1000.5 669.4,999.4 675.9,997.2 683.4,995.6 692.1,994.5 699.6,997.2 706.1,1003.8 712.6,1009.1 719.1,1013.5 726.2,1017.8 733.7,1022.1 738,1026.4 739.2,1030.8 737.6,1035.6 733.2,1041 726.8,1045.3 718.1,1048.6 708.3,1051.8 697.5,1055.1 687.8,1057.2 679.1,1058.4 672.6,1056.7 668.3,1052.4 665.6,1045.9 664.5,1037.2 662.4,1029.7 659.1,1023.1 656.4,1017.8 654.3,1013.4 650,1011.3 643.5,1011.3 638,1010.2 633.7,1008.1 630.4,1004.3 628.3,998.8 628.8,992.9 632.1,986.4 635.3,982.1 638.6,979.9Z"/>
<path d="M631.5,1063.2 640.2,1058.9 646.1,1057.8 649.4,1060 650.5,1063.2 649.3,1067.6 643.9,1070.2 634.2,1071.4 628.8,1070.3 627.8,1067Z"/>
<path d="M764.5,1116.9 771,1118.6 778.6,1123.8 787.3,1132.5 799.2,1138.9 814.3,1143.2 827.3,1148.1 838.2,1153.6 849,1160.1 859.8,1167.6 869.5,1175.7 878.2,1184.4 883,1194.1 884.2,1205 888,1210.9 894.5,1212 898.2,1216.3 899.3,1223.9 906.8,1232.6 921,1242.2 926.4,1250.3 923.1,1256.8 915,1265 902,1274.7 890.1,1282.3 879.3,1287.7 867.4,1292 854.4,1295.3 841.4,1300.7 828.4,1308.2 818.1,1316.9 810.6,1326.6 806.2,1334.8 805.2,1341.2 800.8,1347.2 793.3,1352.6 785.7,1352.6 778.1,1347.2 770,1342.3 761.3,1338.1 755.4,1332.1 752.1,1324.5 752.1,1315.8 755.4,1306.1 756.5,1295.8 755.4,1285 753.3,1273.1 750,1260.1 747.3,1248.8 745.1,1239.1 740.8,1229.3 734.3,1219.6 730.6,1212 729.4,1206.6 732.7,1200.7 740.2,1194.2 748.3,1185 757,1173 762.4,1164.4 764.6,1159 763.5,1152.5 759.2,1144.9 755.9,1136.8 753.8,1128.1 754.9,1121.8 759.1,1118Z"/>
<path d="M1179.5,1614 1187.2,1612.3 1192.3,1607.8 1194.8,1600.4 1199.3,1593.4 1205.9,1586.8 1213.3,1581 1221.5,1576.2 1227.2,1572.1 1230.6,1568.7 1235.5,1566.3 1242,1564.6 1250.2,1563 1260.1,1561.3 1266.7,1563 1270,1567.9 1275.7,1568.8 1284,1565.4 1293.8,1565.4 1305.3,1568.8 1312.8,1569.2 1316.1,1566.7 1321,1565.1 1327.5,1564.2 1333.3,1561.3 1338.2,1556.5 1342.3,1553.2 1345.6,1551.5 1348.9,1552.8 1352.1,1556.9 1355,1558.1 1357.5,1556.4 1357.9,1551.9 1356.3,1544.5 1356.7,1538.3 1359.2,1533.4 1362.9,1528.5 1367.8,1523.5 1373.5,1519.8 1380.1,1517.3 1384.2,1513.6 1385.9,1508.8 1389.2,1505.1 1394,1502.6 1398.6,1499.3 1402.7,1495.2 1409.3,1492.3 1418.3,1490.6 1424.4,1487.8 1427.8,1483.6 1429.8,1477.5 1430.7,1469.3 1431.5,1468.5 1432.3,1475 1431.9,1481.2 1430.2,1486.9 1431.9,1490.6 1436.8,1492.3 1443.4,1493.5 1451.6,1494.4 1456.1,1498.5 1457,1505.9 1459.9,1508.3 1464.8,1505.8 1470.1,1502.1 1475.8,1497.2 1484.5,1494.9 1496,1495.3 1498.8,1497.3 1493.1,1501.1 1489.8,1504.2 1489,1506.7 1490.2,1508.9 1493.6,1510.9 1500.1,1510.1 1510,1506.4 1518.2,1504.6 1524.7,1504.6 1532.1,1506.2 1540.4,1509.6 1545.7,1512.9 1548.2,1516.1 1551.5,1516.6 1555.5,1514.1 1557.6,1510 1557.6,1504.3 1560.5,1499.3 1566.2,1495.2 1574,1492.7 1584,1491.9 1589.3,1496.4 1590.1,1506.3 1589.3,1515.3 1586.8,1523.6 1581.9,1529.3 1574.5,1532.6 1567.5,1535.5 1560.9,1538 1554.3,1540.8 1547.8,1544.1 1541.2,1547 1534.6,1549.5 1530.1,1549.5 1527.6,1547 1527.6,1543.7 1530.1,1539.5 1530.5,1535.8 1528.8,1532.6 1525.5,1529.7 1520.7,1527.2 1514.5,1527.2 1507.1,1529.7 1500.9,1534.2 1496,1540.8 1489.8,1546.6 1482.4,1551.5 1475.4,1555.2 1468.9,1557.7 1459.8,1559.7 1448.3,1561.4 1442.2,1556.9 1441.3,1546.1 1440.5,1538.3 1439.7,1533.4 1436.8,1529.7 1431.9,1527.2 1425.3,1526 1417.1,1526 1407.2,1527.2 1395.8,1529.7 1389.6,1532.2 1388.7,1534.7 1392,1537.1 1399.4,1539.6 1406,1540.6 1411.7,1540.3 1415,1542.7 1415.9,1548.1 1417.9,1551.9 1421.2,1554.4 1420.3,1557.2 1415.5,1560.6 1413,1565.1 1413,1570.8 1410.5,1577 1405.6,1583.5 1400.2,1589.3 1394.5,1594.2 1389.9,1601.2 1386.7,1610.3 1385.4,1610.7 1386.3,1602.4 1385.1,1598.7 1381.7,1599.6 1377.6,1601.2 1372.7,1603.7 1369,1605.7 1366.5,1607.4 1366.5,1611.1 1369,1616.8 1374.7,1620.4 1383.8,1621.6 1385.4,1624.1 1379.7,1627.8 1373.9,1632 1368.2,1637 1363.2,1641.1 1359.1,1644.3 1357.1,1647.7 1357.1,1650.9 1354.6,1654.2 1349.7,1657.5 1344.8,1662.4 1339.9,1669 1335.4,1675.6 1331.2,1682.1 1326.7,1683 1321.8,1678 1317.2,1676.8 1313.1,1679.3 1311.1,1681.7 1311.1,1684.2 1309.4,1687.1 1306.2,1690.3 1303.7,1693.5 1302,1696.4 1300.8,1695.6 1300,1691 1300.8,1687.1 1303.3,1683.8 1300.4,1682.6 1292.2,1683.4 1285.6,1682.6 1280.7,1680.1 1274.9,1676.9 1268.4,1672.8 1265.1,1668.6 1265.1,1664.5 1264.3,1660 1262.6,1655 1262.6,1650.1 1264.3,1645.2 1262.6,1640.2 1257.7,1635.3 1253.6,1632.4 1250.2,1631.6 1245.3,1630.8 1238.8,1630 1233.8,1627.9 1230.6,1624.7 1226,1624.8 1220.3,1628.4 1215.4,1628.8 1211.2,1626 1206.7,1624.2 1201.8,1623.4 1197.2,1621.8 1193.1,1619.3 1189,1618.1 1185,1618.1 1181.1,1617.3 1177.4,1615.6Z"/>
<path d="M1595,1549.2 1597.5,1546.2 1600.8,1544.6 1604.9,1544.2 1608.6,1545.3 1611.8,1547.8 1613.5,1550.7 1613.5,1553.9 1612.3,1556.7 1609.8,1558.8 1606.1,1559.7 1601.2,1559.4 1597.3,1558.6 1594.5,1557.2 1593.3,1555.1 1593.6,1552.2Z"/>
<path d="M1910.6,1379 1913.1,1382.8 1912.2,1386.8 1908.1,1390.9 1905.3,1395.4 1903.6,1400.2 1902,1405.2 1900.3,1410.1 1900.3,1414.6 1902,1418.8 1901.6,1422.4 1899.1,1425.8 1896.3,1427 1892.9,1426.1 1891.3,1429 1891.3,1435.6 1890.5,1441 1888.8,1445 1885.5,1445.9 1880.6,1443.4 1876,1441.4 1872,1439.7 1870.7,1434.8 1872.4,1426.6 1874.4,1420 1876.9,1415.1 1879.7,1408.5 1883.1,1400.3 1887.2,1394.1 1892.1,1390 1896.6,1386.3 1900.8,1383 1904.4,1380.3 1907.8,1378.2Z"/>
<path d="M1854.3,1450 1856,1455.7 1856.4,1461.9 1855.5,1468.5 1857,1473.4 1860.8,1476.7 1862.1,1482.4 1860.7,1490.7 1859.3,1496.8 1857.6,1501 1855.5,1504.9 1853,1508.7 1851,1509.1 1849.4,1506.1 1847.8,1501.3 1846.1,1494.8 1842.8,1489.8 1837.9,1486.6 1835.2,1482.5 1834.7,1477.5 1835.9,1471.8 1838.8,1465.2 1841.9,1459.9 1845.3,1455.8 1848.6,1452.1 1851.8,1448.7Z"/>
<path d="M1821.9,1537.6 1827.6,1534.2 1830.9,1533.4 1831.7,1535.1 1830,1537.1 1826,1539.6 1822.7,1540.4 1820.2,1539.6Z"/>
<path d="M1684.2,1801.8 1687.4,1796.5 1690.7,1792.3 1694.1,1789 1699,1786.6 1705.5,1784.9 1712.1,1782 1718.7,1777.9 1725.7,1776.4 1733.1,1777.5 1736.4,1780.4 1735.5,1785.1 1734.3,1789 1732.7,1792.3 1727.8,1796.4 1719.5,1801.3 1711.3,1804.8 1703.1,1806.7 1698.2,1806.3 1696.5,1803.5 1694.1,1801.3 1690.7,1799.7 1687.4,1800.3 1684.2,1803Z"/>
<path d="M1971.6,1464.5 1979,1461.7 1986,1459 1992.6,1456.5 1998,1453.2 2002,1449.1 2005.7,1445.9 2009.1,1443.4 2010.3,1439.3 2009.4,1433.6 2008.2,1428.7 2006.5,1424.5 2006.5,1420 2008.2,1415.1 2011.5,1410.9 2016.4,1407.7 2023,1405.6 2031.2,1404.8 2039.4,1404.8 2047.7,1405.6 2056.7,1407.7 2066.6,1410.9 2075.6,1413 2083.8,1413.8 2092,1415 2100.3,1416.7 2108.5,1416.7 2116.7,1415 2125.7,1414.2 2135.6,1414.2 2144.6,1415.5 2152.9,1418 2161.9,1419.9 2171.8,1421.1 2180.8,1420.3 2189,1417.4 2198,1415.5 2207.9,1414.6 2218.6,1415 2230.1,1416.7 2240.8,1418.3 2250.7,1420 2259.7,1421.6 2267.9,1423.3 2273.7,1422.4 2276.9,1419.2 2283.5,1416.7 2293.4,1415 2303.2,1415.3 2313.1,1417.4 2322.9,1418.7 2332.9,1419 2342.7,1420.4 2352.6,1422.9 2360.8,1424.5 2367.3,1425.3 2373.1,1427.4 2378,1430.6 2382.6,1431.1 2386.6,1428.6 2391.2,1429.1 2396.1,1432.3 2399.4,1435.6 2401.1,1438.9 2404.4,1439.3 2409.2,1436.8 2408.8,1433.1 2403.1,1428.2 2403.5,1426.1 2410.1,1427 2417.5,1428.6 2425.7,1431.1 2433.9,1431.5 2442.1,1429.8 2451.1,1429.4 2461.1,1430.3 2469.3,1430.7 2475.8,1430.7 2483.2,1432.4 2491.5,1435.6 2498.9,1438.9 2505.4,1442.2 2511.2,1445 2516.1,1447.5 2521,1448.8 2526,1448.8 2531.7,1451.2 2538.3,1456.1 2544.9,1460.2 2551.4,1463.6 2558,1466 2564.6,1467.7 2570.8,1466.8 2576.5,1463.6 2581.1,1461.1 2584.3,1459.4 2584.8,1461.9 2582.2,1468.5 2581,1475.9 2581,1484.1 2580.6,1491.5 2579.8,1498.1 2580.6,1504.7 2583.1,1511.2 2586,1516.5 2589.2,1520.7 2588.4,1522.7 2583.5,1522.7 2580.6,1524.8 2579.8,1528.9 2575.7,1531.7 2568.3,1533.4 2562.1,1535.9 2557.2,1539.1 2551.4,1542.8 2544.9,1547 2539.1,1551.9 2534.2,1557.6 2529.6,1563.4 2525.6,1569.1 2522.3,1575.7 2519.8,1583.1 2516.9,1588.8 2513.7,1593 2509.9,1597.9 2505.9,1603.6 2502.6,1608.6 2500.1,1612.7 2494.7,1616.8 2486.5,1621 2478.3,1624.7 2470.1,1627.9 2461.9,1630 2453.6,1630.8 2445.4,1630.4 2437.2,1628.7 2430.6,1630 2425.7,1634 2419.1,1635.7 2410.9,1634.9 2404.3,1635.7 2399.4,1638.2 2392.8,1641.5 2384.6,1645.5 2377.2,1647.2 2370.7,1646.4 2364.9,1648 2360,1652.2 2355.4,1653.4 2351.4,1651.7 2348.5,1648 2346.8,1642.3 2343.1,1640.2 2337.4,1641.9 2330.4,1639 2322.1,1631.6 2313.1,1632 2303.2,1640.3 2294.6,1641.5 2287.2,1635.7 2279.8,1630.3 2272.4,1625.5 2264.6,1623.4 2256.4,1624.2 2248.2,1625.8 2240,1628.3 2232.6,1630.4 2226,1632 2220.2,1632.8 2215.3,1632.8 2210.4,1631.2 2205.4,1627.9 2200.5,1627.5 2195.6,1630 2189,1629.2 2180.8,1625 2173.4,1623.4 2166.8,1624.2 2161.4,1622.5 2157.4,1618.5 2153.2,1618.1 2149.1,1621.3 2146.7,1625.5 2145.9,1630.3 2140.2,1634.4 2129.4,1637.8 2119.2,1639.8 2109.3,1640.7 2101.9,1642.7 2097,1646 2090.4,1645.5 2082.2,1641.5 2076.4,1637.8 2073.2,1634.4 2067.4,1632.4 2059.2,1631.6 2051,1631.6 2042.7,1632.4 2034.5,1632.8 2026.3,1632.8 2018.1,1632.8 2009.8,1632.8 2003.2,1634.4 1998.4,1637.8 1994.3,1639 1990.9,1638.2 1989.3,1634.1 1989.3,1626.7 1993,1621 2000.4,1616.8 2003.7,1612.7 2002.9,1608.6 2000,1605.7 1995.1,1604.1 1993.4,1600 1995.1,1593.4 1995.5,1587.6 1994.6,1582.7 1995.9,1577.8 1999.1,1572.9 2000.8,1565.5 2000.8,1555.6 2003.3,1547.4 2008.2,1540.8 2009.5,1534.2 2007,1527.7 2004.1,1519.5 2000.8,1509.5 1998.4,1502.1 1996.7,1497.2 1992.6,1494.4 1986,1493.5 1980.7,1489.4 1976.5,1482 1972.8,1475.2 1969.6,1469Z"/>
<path d="M2606.1,1572.1 2613.5,1568.7 2622.1,1565.4 2632,1562.2 2641,1558.9 2649.2,1555.6 2657.4,1553.6 2665.7,1552.7 2674.7,1553.5 2684.6,1556 2694.4,1557.6 2704.3,1558.5 2710.4,1560.1 2712.9,1562.6 2709.7,1564.2 2700.6,1565.1 2692.8,1566.7 2686.2,1569.2 2678,1572.1 2668.1,1575.3 2659.1,1577.8 2650.9,1579.4 2642.7,1580.2 2634.4,1580.2 2627,1581.5 2620.5,1584 2614.3,1584.4 2608.6,1582.7 2604.9,1579.9 2603.2,1575.8Z"/>
<path d="M2696.1,1481.2 2702.6,1480.4 2709.2,1481.2 2715.8,1483.7 2720.8,1486.6 2724,1489.8 2723.2,1493.2 2718.3,1496.4 2712.5,1498.1 2706,1498.1 2700.2,1496.4 2695.3,1493.2 2692.8,1489 2692.8,1484.1Z"/>
<path d="M2803,1473 2811.1,1470.5 2819.3,1469.3 2827.4,1469.3 2835.6,1470.1 2843.8,1471.8 2851.2,1474.2 2857.7,1477.5 2862.1,1480.7 2864.6,1484 2863.8,1486.8 2859.6,1489.3 2855.2,1490.1 2850.3,1489.3 2845.5,1487.3 2840.5,1484 2834,1481.6 2825.9,1479.9 2817.7,1479.1 2809.5,1479.1 2803.8,1477.9 2800.5,1475.4Z"/>
<path d="M2889.4,1480.8 2894.4,1477.4 2900.1,1475 2906.6,1473.4 2912.3,1473.4 2917.2,1475 2920,1478.7 2920.9,1484.4 2920.1,1488.5 2917.6,1490.9 2913.1,1490.9 2906.6,1488.5 2900.5,1487.3 2894.8,1487.3 2890.7,1486.1 2888.2,1483.6Z"/>
<path d="M2856.5,1716.9 2863.8,1716.1 2871.5,1714.9 2879.6,1713.2 2887,1712 2893.5,1711.2 2899.3,1712 2904.1,1714.5 2909.8,1716.5 2916.3,1718.1 2924.5,1719.3 2934.3,1720.1 2943.3,1720.8 2951.4,1721.2 2958.8,1721.2 2965.3,1720.8 2964.5,1722.2 2956.4,1725.4 2948.2,1728.3 2940.1,1730.8 2931.9,1733.6 2923.7,1736.9 2915.5,1739.3 2907.4,1741 2899.2,1743 2891.1,1745.4 2882.9,1747.4 2874.8,1749.1 2867.4,1748.7 2860.9,1746.2 2855.2,1746.6 2850.3,1749.9 2849.5,1747.4 2852.8,1739.3 2854,1730.7 2853.2,1721.8Z"/>
</g>
<g fill="none" stroke="#a6a8ab" stroke-width="4.4">
<rect x="37.3" y="36.4" width="2982.2" height="1790.3"/>
<path d="M947,36.4V1372 M37.3,739.7H947 M37.3,1372H3019.5 M1160.5,1372V1826.7 M1643,1372V1826.7 M1946.8,1372V1826.7 M2771,1372V1600L2365,1826.7"/>
</g>
<g stroke="#151515" stroke-opacity="0.9" fill-opacity="0.8">
<g stroke-width="1.5">
<circle cx="1178.4" cy="86.9" r="14.5" fill="#bc7e12"/>
<circle cx="1185.5" cy="85.0" r="14.5" fill="#0d5c5c"/>
<circle cx="1184.0" cy="81.3" r="14.5" fill="#fef79c"/>
<circle cx="1182.7" cy="80.0" r="14.5" fill="#fef79c"/>
<circle cx="1178.9" cy="109.8" r="14.5" fill="#bc7e12"/>
<circle cx="1175.1" cy="117.7" r="14.5" fill="#bc7e12"/>
<circle cx="1187.5" cy="92.7" r="14.5" fill="#dd2941"/>
<circle cx="1171.9" cy="130.8" r="14.5" fill="#0d5c5c"/>
<circle cx="1185.3" cy="131.9" r="14.5" fill="#dd2941"/>
<circle cx="1117.2" cy="110.3" r="14.5" fill="#0d5c5c"/>
<circle cx="1123.1" cy="122.5" r="14.5" fill="#588fad"/>
<circle cx="1122.0" cy="124.7" r="14.5" fill="#0d5c5c"/>
<circle cx="1116.9" cy="132.7" r="14.5" fill="#0d5c5c"/>
<circle cx="1102.3" cy="121.5" r="14.5" fill="#8553a6"/>
<circle cx="1243.9" cy="138.0" r="14.5" fill="#0d5c5c"/>
<circle cx="1240.7" cy="126.8" r="14.5" fill="#bebf64"/>
<circle cx="1287.1" cy="125.2" r="14.5" fill="#bebf64"/>
<circle cx="1118.8" cy="158.2" r="14.5" fill="#588fad"/>
<circle cx="1111.4" cy="172.1" r="14.5" fill="#0d5c5c"/>
<circle cx="1112.4" cy="162.5" r="14.5" fill="#bebf64"/>
<circle cx="1109.8" cy="158.7" r="14.5" fill="#bebf64"/>
<circle cx="1156.8" cy="166.7" r="14.5" fill="#bc7e12"/>
<circle cx="1084.7" cy="187.5" r="14.5" fill="#db006a"/>
<circle cx="1146.2" cy="205.5" r="14.5" fill="#dd2941"/>
<circle cx="1141.8" cy="202.4" r="14.5" fill="#bebf64"/>
<circle cx="1144.0" cy="204.9" r="14.5" fill="#dd2941"/>
<circle cx="1195.3" cy="202.4" r="14.5" fill="#dd2941"/>
<circle cx="1074.5" cy="226.2" r="14.5" fill="#0d5c5c"/>
<circle cx="1226.3" cy="232.1" r="14.5" fill="#0d5c5c"/>
<circle cx="1250.4" cy="251.2" r="14.5" fill="#dd2941"/>
<circle cx="1300.8" cy="257.2" r="14.5" fill="#bebf64"/>
<circle cx="1053.3" cy="249.6" r="14.5" fill="#db006a"/>
<circle cx="1105.2" cy="255.9" r="14.5" fill="#bc7e12"/>
<circle cx="1130.9" cy="250.6" r="14.5" fill="#588fad"/>
<circle cx="1126.2" cy="247.5" r="14.5" fill="#0d5c5c"/>
<circle cx="1064.5" cy="267.2" r="14.5" fill="#bebf64"/>
<circle cx="1085.5" cy="289.7" r="14.5" fill="#bebf64"/>
<circle cx="1107.4" cy="293.8" r="14.5" fill="#588fad"/>
<circle cx="1044.5" cy="317.9" r="14.5" fill="#fef79c"/>
<circle cx="1038.9" cy="338.2" r="14.5" fill="#bebf64"/>
<circle cx="1086.7" cy="374.2" r="14.5" fill="#bebf64"/>
<circle cx="1118.3" cy="389.5" r="14.5" fill="#bebf64"/>
<circle cx="1343.3" cy="337.9" r="14.5" fill="#bebf64"/>
<circle cx="1394.3" cy="336.6" r="14.5" fill="#0d5c5c"/>
<circle cx="1384.0" cy="357.3" r="14.5" fill="#dd2941"/>
<circle cx="1023.9" cy="407.7" r="14.5" fill="#588fad"/>
<circle cx="1025.1" cy="410.2" r="14.5" fill="#bebf64"/>
<circle cx="1022.9" cy="422.7" r="14.5" fill="#bebf64"/>
<circle cx="1065.8" cy="422.7" r="14.5" fill="#bc7e12"/>
<circle cx="1007.3" cy="438.3" r="14.5" fill="#588fad"/>
<circle cx="1012.0" cy="441.8" r="14.5" fill="#bc7e12"/>
<circle cx="1013.5" cy="443.6" r="14.5" fill="#bc7e12"/>
<circle cx="999.4" cy="516.6" r="14.5" fill="#bc7e12"/>
<circle cx="1018.2" cy="513.5" r="14.5" fill="#588fad"/>
<circle cx="1015.1" cy="504.1" r="14.5" fill="#0d5c5c"/>
<circle cx="1005.7" cy="509.4" r="14.5" fill="#dd2941"/>
<circle cx="1073.0" cy="513.5" r="14.5" fill="#0d5c5c"/>
<circle cx="1018.2" cy="570.7" r="14.5" fill="#588fad"/>
<circle cx="1016.7" cy="565.1" r="14.5" fill="#588fad"/>
<circle cx="1012.9" cy="560.4" r="14.5" fill="#bc7e12"/>
<circle cx="1014.8" cy="612.7" r="14.5" fill="#588fad"/>
<circle cx="1006.6" cy="592.3" r="14.5" fill="#fef79c"/>
<circle cx="1036.4" cy="678.4" r="14.5" fill="#fef79c"/>
<circle cx="1079.2" cy="768.5" r="14.5" fill="#0d5c5c"/>
<circle cx="1071.4" cy="775.4" r="14.5" fill="#8553a6"/>
<circle cx="1123.0" cy="799.8" r="14.5" fill="#bc7e12"/>
<circle cx="1276.4" cy="737.8" r="14.5" fill="#588fad"/>
<circle cx="1190.3" cy="861.4" r="14.5" fill="#8553a6"/>
<circle cx="1171.9" cy="889.9" r="14.5" fill="#0d5c5c"/>
<circle cx="2136.6" cy="316.2" r="14.5" fill="#0d5c5c"/>
<circle cx="2135.7" cy="311.3" r="14.5" fill="#fef79c"/>
<circle cx="2160.1" cy="298.4" r="14.5" fill="#db006a"/>
<circle cx="2356.4" cy="338.5" r="14.5" fill="#dd2941"/>
<circle cx="2216.0" cy="446.1" r="14.5" fill="#588fad"/>
<circle cx="2308.6" cy="506.3" r="14.5" fill="#bc7e12"/>
<circle cx="2340.8" cy="509.7" r="14.5" fill="#bc7e12"/>
<circle cx="2464.3" cy="467.5" r="14.5" fill="#588fad"/>
<circle cx="2445.9" cy="528.9" r="14.5" fill="#588fad"/>
<circle cx="2513.0" cy="498.1" r="14.5" fill="#db006a"/>
<circle cx="2604.7" cy="430.4" r="14.5" fill="#bc7e12"/>
<circle cx="2807.7" cy="452.8" r="14.5" fill="#0d5c5c"/>
<circle cx="2864.0" cy="208.5" r="14.5" fill="#0d5c5c"/>
<circle cx="2912.0" cy="244.6" r="14.5" fill="#dd2941"/>
<circle cx="2951.8" cy="240.8" r="14.5" fill="#db006a"/>
<circle cx="2952.8" cy="249.5" r="14.5" fill="#0d5c5c"/>
<circle cx="2958.0" cy="253.3" r="14.5" fill="#dd2941"/>
<circle cx="2880.0" cy="334.8" r="14.5" fill="#8553a6"/>
<circle cx="2849.9" cy="373.4" r="14.5" fill="#db006a"/>
<circle cx="2854.8" cy="350.4" r="14.5" fill="#0d5c5c"/>
<circle cx="2873.9" cy="377.9" r="14.5" fill="#588fad"/>
<circle cx="2870.0" cy="375.3" r="14.5" fill="#db006a"/>
<circle cx="2874.5" cy="393.5" r="14.5" fill="#bc7e12"/>
<circle cx="2863.5" cy="388.3" r="14.5" fill="#0d5c5c"/>
<circle cx="2875.2" cy="410.4" r="14.5" fill="#db006a"/>
<circle cx="2871.9" cy="410.1" r="14.5" fill="#0d5c5c"/>
<circle cx="2859.6" cy="431.2" r="14.5" fill="#bc7e12"/>
<circle cx="2901.2" cy="422.7" r="14.5" fill="#588fad"/>
<circle cx="2897.3" cy="426.6" r="14.5" fill="#588fad"/>
<circle cx="2858.3" cy="448.1" r="14.5" fill="#fef79c"/>
<circle cx="2796.0" cy="494.8" r="14.5" fill="#bc7e12"/>
<circle cx="2795.8" cy="549.1" r="14.5" fill="#8553a6"/>
<circle cx="2766.6" cy="580.5" r="14.5" fill="#db006a"/>
<circle cx="2703.1" cy="589.8" r="14.5" fill="#588fad"/>
<circle cx="2710.1" cy="617.7" r="14.5" fill="#fef79c"/>
<circle cx="2753.8" cy="646.5" r="14.5" fill="#db006a"/>
<circle cx="2709.2" cy="660.3" r="14.5" fill="#bc7e12"/>
<circle cx="2719.1" cy="664.7" r="14.5" fill="#db006a"/>
<circle cx="2772.5" cy="697.3" r="14.5" fill="#8553a6"/>
<circle cx="2766.4" cy="720.5" r="14.5" fill="#8553a6"/>
<circle cx="2695.2" cy="747.8" r="14.5" fill="#0d5c5c"/>
<circle cx="2641.1" cy="783.5" r="14.5" fill="#0d5c5c"/>
<circle cx="2744.6" cy="793.5" r="14.5" fill="#588fad"/>
<circle cx="2760.3" cy="798.2" r="14.5" fill="#db006a"/>
<circle cx="2708.3" cy="831.1" r="14.5" fill="#bc7e12"/>
<circle cx="2614.8" cy="904.0" r="14.5" fill="#fef79c"/>
<circle cx="2653.6" cy="907.1" r="14.5" fill="#db006a"/>
<circle cx="2648.3" cy="934.9" r="14.5" fill="#bc7e12"/>
<circle cx="2611.3" cy="942.8" r="14.5" fill="#588fad"/>
<circle cx="1985.4" cy="1119.0" r="14.5" fill="#8553a6"/>
<circle cx="2012.9" cy="1167.1" r="14.5" fill="#bc7e12"/>
<circle cx="1958.4" cy="1205.0" r="14.5" fill="#fef79c"/>
<circle cx="2114.6" cy="1124.6" r="14.5" fill="#db006a"/>
<circle cx="2182.2" cy="1119.3" r="14.5" fill="#bc7e12"/>
<circle cx="2200.6" cy="1142.4" r="14.5" fill="#bc7e12"/>
<circle cx="2238.8" cy="1126.5" r="14.5" fill="#588fad"/>
<circle cx="2261.6" cy="1102.4" r="14.5" fill="#bc7e12"/>
<circle cx="2284.5" cy="1096.4" r="14.5" fill="#bc7e12"/>
<circle cx="2292.0" cy="1099.6" r="14.5" fill="#bc7e12"/>
<circle cx="2322.7" cy="1063.3" r="14.5" fill="#588fad"/>
<circle cx="2336.7" cy="1057.9" r="14.5" fill="#588fad"/>
<circle cx="2316.4" cy="1042.3" r="14.5" fill="#db006a"/>
<circle cx="2308.6" cy="1076.7" r="14.5" fill="#fef79c"/>
<circle cx="2340.5" cy="1061.1" r="14.5" fill="#fef79c"/>
<circle cx="2364.3" cy="1064.8" r="14.5" fill="#588fad"/>
<circle cx="2451.8" cy="1078.3" r="14.5" fill="#bc7e12"/>
<circle cx="2595.4" cy="991.9" r="14.5" fill="#db006a"/>
<circle cx="2582.6" cy="1052.6" r="14.5" fill="#588fad"/>
<circle cx="2592.9" cy="1048.6" r="14.5" fill="#588fad"/>
<circle cx="2587.6" cy="1057.9" r="14.5" fill="#db006a"/>
<circle cx="2557.8" cy="1139.0" r="14.5" fill="#8553a6"/>
<circle cx="2580.4" cy="1213.8" r="14.5" fill="#588fad"/>
<circle cx="2655.5" cy="1256.9" r="14.5" fill="#bc7e12"/>
<circle cx="2629.2" cy="1257.9" r="14.5" fill="#fef79c"/>
<circle cx="2656.1" cy="1280.7" r="14.5" fill="#588fad"/>
<circle cx="2632.3" cy="1297.3" r="14.5" fill="#588fad"/>
</g>
<g stroke-width="1.0">
<circle cx="337.6" cy="209.6" r="9.8" fill="#bebf64"/>
<circle cx="513.7" cy="399.8" r="9.8" fill="#dd2941"/>
<circle cx="585.4" cy="454.3" r="9.8" fill="#0d5c5c"/>
<circle cx="473.8" cy="486.9" r="9.8" fill="#588fad"/>
<circle cx="483.3" cy="480.5" r="9.8" fill="#fef79c"/>
<circle cx="378.8" cy="574.8" r="9.8" fill="#bc7e12"/>
<circle cx="837.2" cy="491.4" r="9.8" fill="#8553a6"/>
<circle cx="893.9" cy="589.8" r="9.8" fill="#dd2941"/>
</g>
<g stroke-width="0.9">
<circle cx="422.5" cy="902.2" r="8.0" fill="#588fad"/>
<circle cx="431.2" cy="911.8" r="8.0" fill="#588fad"/>
<circle cx="420.3" cy="907.9" r="8.0" fill="#bc7e12"/>
<circle cx="643.6" cy="998.3" r="8.0" fill="#bc7e12"/>
<circle cx="639.3" cy="1001.8" r="8.0" fill="#db006a"/>
</g>
<g stroke-width="1.0">
<circle cx="1431.1" cy="1580.2" r="9.9" fill="#db006a"/>
</g>
<g stroke-width="0.8">
<circle cx="1888.0" cy="1403.7" r="5.4" fill="#8553a6"/>
<circle cx="1888.7" cy="1420.5" r="5.4" fill="#bc7e12"/>
</g>
<g stroke-width="1.2">
<circle cx="2480.4" cy="1442.8" r="12.3" fill="#bc7e12"/>
<circle cx="2701.0" cy="1488.2" r="12.3" fill="#8553a6"/>
<circle cx="2669.1" cy="1576.0" r="12.3" fill="#db006a"/>
<circle cx="2106.7" cy="1617.1" r="12.3" fill="#588fad"/>
<circle cx="2030.7" cy="1641.4" r="12.3" fill="#588fad"/>
<circle cx="2340.7" cy="1630.2" r="12.3" fill="#bc7e12"/>
<circle cx="2393.0" cy="1627.6" r="12.3" fill="#bc7e12"/>
<circle cx="2805.1" cy="1493.1" r="12.3" fill="#bc7e12"/>
<circle cx="2916.7" cy="1729.7" r="12.3" fill="#588fad"/>
</g>
</g>
<circle cx="75.5" cy="1411.2" r="17.7" fill="#c4923c"/>
<text x="103.6" y="1417.3" font-size="29.3" fill="#000" textLength="1033.1" lengthAdjust="spacingAndGlyphs">Coastal Habitat Restoration and Resilience Grants for Underserved Communities</text>
<circle cx="75.5" cy="1464.3" r="17.7" fill="#e0338a"/>
<text x="103.6" y="1471.0" font-size="29.3" fill="#000" textLength="791.9" lengthAdjust="spacingAndGlyphs">Coastal Zone Management Habitat Protection and Restoration</text>
<circle cx="75.5" cy="1517.4" r="17.7" fill="#9a70b4"/>
<text x="103.6" y="1524.8" font-size="29.3" fill="#000" textLength="297.8" lengthAdjust="spacingAndGlyphs">Marine Debris Removal</text>
<circle cx="75.5" cy="1570.5" r="17.7" fill="#fef5ae"/>
<text x="103.6" y="1578.5" font-size="29.3" fill="#000" textLength="941.4" lengthAdjust="spacingAndGlyphs">National Estuarine Research Reserves Habitat Protection and Restoration</text>
<circle cx="75.5" cy="1623.6" r="17.7" fill="#c8c97e"/>
<text x="103.6" y="1632.3" font-size="29.3" fill="#000" textLength="497.4" lengthAdjust="spacingAndGlyphs">Pacific Coastal Salmon Recovery Fund</text>
<circle cx="75.5" cy="1676.7" r="17.7" fill="#3d7b7b"/>
<text x="103.6" y="1686.0" font-size="29.3" fill="#000" textLength="633.0" lengthAdjust="spacingAndGlyphs">Restoring Fish Passage Through Barrier Removal</text>
<circle cx="75.5" cy="1729.8" r="17.7" fill="#e05263"/>
<text x="103.6" y="1739.7" font-size="29.3" fill="#000" textLength="809.0" lengthAdjust="spacingAndGlyphs">Restoring Tribal Priority Fish Passage Through Barrier Removal</text>
<circle cx="75.5" cy="1782.9" r="17.7" fill="#77a2bd"/>
<text x="103.6" y="1793.5" font-size="29.3" fill="#000" textLength="864.5" lengthAdjust="spacingAndGlyphs">Transformational Habitat Restoration and Coastal Resilience Grants</text>
<text x="84.3" y="113.9" font-size="44.5" font-weight="bold" fill="#000" textLength="113.7" lengthAdjust="spacingAndGlyphs">ALASKA</text>
<text x="802.5" y="816.5" font-size="44.5" font-weight="bold" fill="#000" textLength="95.2" lengthAdjust="spacingAndGlyphs">HAWAII</text>
<text x="1271" y="1784" font-size="44.5" font-weight="bold" fill="#000" textLength="260.3" lengthAdjust="spacingAndGlyphs">AMERICAN SAMOA</text>
<text x="1827.8" y="1784" font-size="44.5" font-weight="bold" fill="#000" textLength="70.1" lengthAdjust="spacingAndGlyphs">CMNI</text>
<text x="2093.8" y="1784" font-size="44.5" font-weight="bold" fill="#000" textLength="184.8" lengthAdjust="spacingAndGlyphs">PUERTO RICO</text>
<text x="2540.5" y="1783.7" font-size="44.5" font-weight="bold" fill="#000" textLength="280.6" lengthAdjust="spacingAndGlyphs">U.S. VIRGIN ISLANDS</text>
</svg>
</body></html>
